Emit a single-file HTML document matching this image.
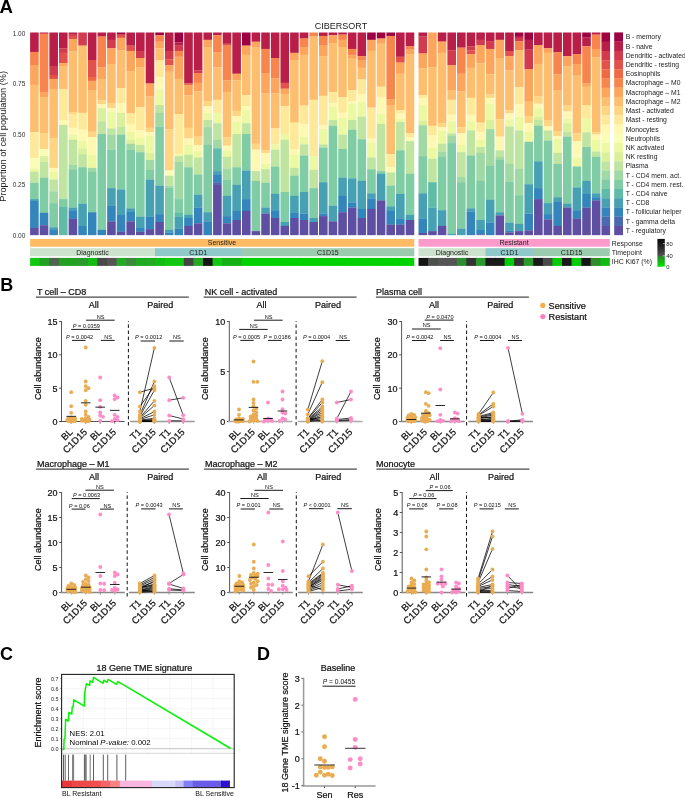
<!DOCTYPE html>
<html><head><meta charset="utf-8"><style>
html,body{margin:0;padding:0;background:#fff;}
svg{display:block;font-family:"Liberation Sans",sans-serif;will-change:transform;}
svg text.b{stroke:#111;stroke-width:0.22px;}
</style></head><body>
<svg width="685" height="798" viewBox="0 0 685 798">
<rect width="685" height="798" fill="#fff"/>
<text x="-0.4" y="13" font-size="18.6" text-anchor="start" fill="#000" font-weight="bold">A</text>
<text x="341" y="29" font-size="9" text-anchor="middle" fill="#222" >CIBERSORT</text>
<text x="25.3" y="35.6" font-size="6.5" text-anchor="end" fill="#333" >1.00</text>
<text x="25.3" y="86.22" font-size="6.5" text-anchor="end" fill="#333" >0.75</text>
<text x="25.3" y="136.85" font-size="6.5" text-anchor="end" fill="#333" >0.50</text>
<text x="25.3" y="187.47" font-size="6.5" text-anchor="end" fill="#333" >0.25</text>
<text x="25.3" y="238.1" font-size="6.5" text-anchor="end" fill="#333" >0.00</text>
<text transform="translate(6.4,136.3) rotate(-90)" font-size="9.2" text-anchor="middle" fill="#222">Proportion of cell population (%)</text>
<rect x="30.1" y="32.5" width="8.6" height="19.55" fill="#B81E48" />
<rect x="30.1" y="51.9" width="8.6" height="13.25" fill="#F7864E" />
<rect x="30.1" y="65" width="8.6" height="19.95" fill="#FCA55D" />
<rect x="30.1" y="84.8" width="8.6" height="47.65" fill="#FDBF6F" />
<rect x="30.1" y="132.3" width="8.6" height="25.95" fill="#FEE99A" />
<rect x="30.1" y="158.1" width="8.6" height="10.55" fill="#F9FDB6" />
<rect x="30.1" y="168.5" width="8.6" height="3.45" fill="#EDF8A3" />
<rect x="30.1" y="171.8" width="8.6" height="11.15" fill="#BFE5A0" />
<rect x="30.1" y="182.8" width="8.6" height="16.45" fill="#80CCA5" />
<rect x="30.1" y="199.1" width="8.6" height="1.85" fill="#48A1B3" />
<rect x="30.1" y="200.8" width="8.6" height="27.15" fill="#3485BC" />
<rect x="30.1" y="227.8" width="8.6" height="7.35" fill="#5E4FA2" />
<rect x="39.73" y="32.5" width="8.6" height="1.35" fill="#B81E48" />
<rect x="39.73" y="33.7" width="8.6" height="58.35" fill="#F7864E" />
<rect x="39.73" y="91.9" width="8.6" height="5.35" fill="#FCA55D" />
<rect x="39.73" y="97.1" width="8.6" height="36.05" fill="#FDBF6F" />
<rect x="39.73" y="133" width="8.6" height="16.15" fill="#FED683" />
<rect x="39.73" y="149" width="8.6" height="7.25" fill="#F9FDB6" />
<rect x="39.73" y="156.1" width="8.6" height="6.05" fill="#DBF09A" />
<rect x="39.73" y="162" width="8.6" height="15.75" fill="#BFE5A0" />
<rect x="39.73" y="177.6" width="8.6" height="35.35" fill="#80CCA5" />
<rect x="39.73" y="212.8" width="8.6" height="12.55" fill="#3485BC" />
<rect x="39.73" y="225.2" width="8.6" height="9.95" fill="#5E4FA2" />
<rect x="49.36" y="32.5" width="8.6" height="33.55" fill="#B81E48" />
<rect x="49.36" y="65.9" width="8.6" height="9.25" fill="#D23B4E" />
<rect x="49.36" y="75" width="8.6" height="4.05" fill="#E2524A" />
<rect x="49.36" y="78.9" width="8.6" height="10.15" fill="#FCA55D" />
<rect x="49.36" y="88.9" width="8.6" height="49.15" fill="#FDBF6F" />
<rect x="49.36" y="137.9" width="8.6" height="30.15" fill="#FED683" />
<rect x="49.36" y="167.9" width="8.6" height="4.05" fill="#FFF8B3" />
<rect x="49.36" y="171.8" width="8.6" height="7.95" fill="#EDF8A3" />
<rect x="49.36" y="179.6" width="8.6" height="11.85" fill="#BFE5A0" />
<rect x="49.36" y="191.3" width="8.6" height="11.95" fill="#A1D9A4" />
<rect x="49.36" y="203.1" width="8.6" height="24.25" fill="#80CCA5" />
<rect x="49.36" y="227.2" width="8.6" height="2.75" fill="#48A1B3" />
<rect x="49.36" y="229.8" width="8.6" height="5.35" fill="#3485BC" />
<rect x="58.99" y="32.5" width="8.6" height="15.95" fill="#B81E48" />
<rect x="58.99" y="48.3" width="8.6" height="4.65" fill="#D23B4E" />
<rect x="58.99" y="52.8" width="8.6" height="10.55" fill="#E2524A" />
<rect x="58.99" y="63.2" width="8.6" height="2.85" fill="#FCA55D" />
<rect x="58.99" y="65.9" width="8.6" height="23.15" fill="#FDBF6F" />
<rect x="58.99" y="88.9" width="8.6" height="31.25" fill="#FEE99A" />
<rect x="58.99" y="120" width="8.6" height="5.05" fill="#FFF8B3" />
<rect x="58.99" y="124.9" width="8.6" height="74.35" fill="#BFE5A0" />
<rect x="58.99" y="199.1" width="8.6" height="7.35" fill="#80CCA5" />
<rect x="58.99" y="206.3" width="8.6" height="28.85" fill="#61BCA7" />
<rect x="68.62" y="32.5" width="8.6" height="2.25" fill="#B81E48" />
<rect x="68.62" y="34.6" width="8.6" height="1.45" fill="#D23B4E" />
<rect x="68.62" y="35.9" width="8.6" height="3.35" fill="#E2524A" />
<rect x="68.62" y="39.1" width="8.6" height="12.55" fill="#FCA55D" />
<rect x="68.62" y="51.5" width="8.6" height="60.75" fill="#FDBF6F" />
<rect x="68.62" y="112.1" width="8.6" height="2.15" fill="#FED683" />
<rect x="68.62" y="114.1" width="8.6" height="13.85" fill="#FEE99A" />
<rect x="68.62" y="127.8" width="8.6" height="6.95" fill="#FFF8B3" />
<rect x="68.62" y="134.6" width="8.6" height="5.35" fill="#EDF8A3" />
<rect x="68.62" y="139.8" width="8.6" height="24.95" fill="#BFE5A0" />
<rect x="68.62" y="164.6" width="8.6" height="4.75" fill="#A1D9A4" />
<rect x="68.62" y="169.2" width="8.6" height="38.55" fill="#80CCA5" />
<rect x="68.62" y="207.6" width="8.6" height="2.75" fill="#48A1B3" />
<rect x="68.62" y="210.2" width="8.6" height="8.65" fill="#3485BC" />
<rect x="68.62" y="218.7" width="8.6" height="16.45" fill="#5E4FA2" />
<rect x="78.25" y="32.5" width="8.6" height="13.25" fill="#D23B4E" />
<rect x="78.25" y="45.6" width="8.6" height="67.35" fill="#FDBF6F" />
<rect x="78.25" y="112.8" width="8.6" height="17.05" fill="#FEE99A" />
<rect x="78.25" y="129.7" width="8.6" height="11.55" fill="#FFF8B3" />
<rect x="78.25" y="141.1" width="8.6" height="7.35" fill="#EDF8A3" />
<rect x="78.25" y="148.3" width="8.6" height="6.05" fill="#DBF09A" />
<rect x="78.25" y="154.2" width="8.6" height="13.15" fill="#BFE5A0" />
<rect x="78.25" y="167.2" width="8.6" height="36.65" fill="#80CCA5" />
<rect x="78.25" y="203.7" width="8.6" height="22.35" fill="#48A1B3" />
<rect x="78.25" y="225.9" width="8.6" height="9.25" fill="#3485BC" />
<rect x="87.88" y="32.5" width="8.6" height="27.65" fill="#B81E48" />
<rect x="87.88" y="60" width="8.6" height="17.05" fill="#E2524A" />
<rect x="87.88" y="76.9" width="8.6" height="4.05" fill="#F16944" />
<rect x="87.88" y="80.8" width="8.6" height="9.35" fill="#FCA55D" />
<rect x="87.88" y="90" width="8.6" height="41.85" fill="#FDBF6F" />
<rect x="87.88" y="131.7" width="8.6" height="5.45" fill="#FED683" />
<rect x="87.88" y="137" width="8.6" height="17.95" fill="#FFF8B3" />
<rect x="87.88" y="154.8" width="8.6" height="13.25" fill="#EDF8A3" />
<rect x="87.88" y="167.9" width="8.6" height="4.05" fill="#A1D9A4" />
<rect x="87.88" y="171.8" width="8.6" height="40.55" fill="#80CCA5" />
<rect x="87.88" y="212.2" width="8.6" height="22.95" fill="#3485BC" />
<rect x="97.51" y="32.5" width="8.6" height="4.15" fill="#B81E48" />
<rect x="97.51" y="36.5" width="8.6" height="30.85" fill="#F7864E" />
<rect x="97.51" y="67.2" width="8.6" height="11.85" fill="#FCA55D" />
<rect x="97.51" y="78.9" width="8.6" height="21.65" fill="#FDBF6F" />
<rect x="97.51" y="100.4" width="8.6" height="4.05" fill="#FED683" />
<rect x="97.51" y="104.3" width="8.6" height="4.05" fill="#FFF8B3" />
<rect x="97.51" y="108.2" width="8.6" height="13.25" fill="#DBF09A" />
<rect x="97.51" y="121.3" width="8.6" height="9.85" fill="#BFE5A0" />
<rect x="97.51" y="131" width="8.6" height="3.15" fill="#BFE5A0" />
<rect x="97.51" y="134" width="8.6" height="95.95" fill="#80CCA5" />
<rect x="97.51" y="229.8" width="8.6" height="5.35" fill="#3485BC" />
<rect x="107.14" y="32.5" width="8.6" height="7.45" fill="#B81E48" />
<rect x="107.14" y="39.8" width="8.6" height="8.65" fill="#D23B4E" />
<rect x="107.14" y="48.3" width="8.6" height="15.75" fill="#FCA55D" />
<rect x="107.14" y="63.9" width="8.6" height="39.25" fill="#FDBF6F" />
<rect x="107.14" y="103" width="8.6" height="5.35" fill="#FED683" />
<rect x="107.14" y="108.2" width="8.6" height="3.45" fill="#FFF8B3" />
<rect x="107.14" y="111.5" width="8.6" height="17.05" fill="#EDF8A3" />
<rect x="107.14" y="128.4" width="8.6" height="6.35" fill="#BFE5A0" />
<rect x="107.14" y="134.6" width="8.6" height="15.15" fill="#A1D9A4" />
<rect x="107.14" y="149.6" width="8.6" height="38.65" fill="#80CCA5" />
<rect x="107.14" y="188.1" width="8.6" height="17.75" fill="#48A1B3" />
<rect x="107.14" y="205.7" width="8.6" height="15.75" fill="#3485BC" />
<rect x="107.14" y="221.3" width="8.6" height="13.85" fill="#5E4FA2" />
<rect x="116.77" y="32.5" width="8.6" height="2.25" fill="#9E0142" />
<rect x="116.77" y="34.6" width="8.6" height="3.35" fill="#E2524A" />
<rect x="116.77" y="37.8" width="8.6" height="12.55" fill="#FCA55D" />
<rect x="116.77" y="50.2" width="8.6" height="37.95" fill="#FDBF6F" />
<rect x="116.77" y="88" width="8.6" height="15.15" fill="#FEE99A" />
<rect x="116.77" y="103" width="8.6" height="9.95" fill="#FFF8B3" />
<rect x="116.77" y="112.8" width="8.6" height="14.45" fill="#DBF09A" />
<rect x="116.77" y="127.1" width="8.6" height="7.65" fill="#BFE5A0" />
<rect x="116.77" y="134.6" width="8.6" height="54.95" fill="#80CCA5" />
<rect x="116.77" y="189.4" width="8.6" height="25.55" fill="#48A1B3" />
<rect x="116.77" y="214.8" width="8.6" height="17.05" fill="#3485BC" />
<rect x="116.77" y="231.7" width="8.6" height="3.45" fill="#5E4FA2" />
<rect x="126.4" y="32.5" width="8.6" height="13.25" fill="#B81E48" />
<rect x="126.4" y="45.6" width="8.6" height="5.45" fill="#E2524A" />
<rect x="126.4" y="50.9" width="8.6" height="20.35" fill="#FCA55D" />
<rect x="126.4" y="71.1" width="8.6" height="42.45" fill="#FDBF6F" />
<rect x="126.4" y="113.4" width="8.6" height="10.65" fill="#FEE99A" />
<rect x="126.4" y="123.9" width="8.6" height="8.25" fill="#FFF8B3" />
<rect x="126.4" y="132" width="8.6" height="7.95" fill="#EDF8A3" />
<rect x="126.4" y="139.8" width="8.6" height="4.05" fill="#DBF09A" />
<rect x="126.4" y="143.7" width="8.6" height="6.05" fill="#A1D9A4" />
<rect x="126.4" y="149.6" width="8.6" height="58.85" fill="#80CCA5" />
<rect x="126.4" y="208.3" width="8.6" height="3.65" fill="#48A1B3" />
<rect x="126.4" y="211.8" width="8.6" height="9.65" fill="#3485BC" />
<rect x="126.4" y="221.3" width="8.6" height="13.85" fill="#5E4FA2" />
<rect x="136.03" y="32.5" width="8.6" height="18.55" fill="#B81E48" />
<rect x="136.03" y="50.9" width="8.6" height="7.25" fill="#D23B4E" />
<rect x="136.03" y="58" width="8.6" height="9.35" fill="#FCA55D" />
<rect x="136.03" y="67.2" width="8.6" height="39.85" fill="#FDBF6F" />
<rect x="136.03" y="106.9" width="8.6" height="23.65" fill="#FEE99A" />
<rect x="136.03" y="130.4" width="8.6" height="7.65" fill="#FFF8B3" />
<rect x="136.03" y="137.9" width="8.6" height="7.25" fill="#EDF8A3" />
<rect x="136.03" y="145" width="8.6" height="7.35" fill="#BFE5A0" />
<rect x="136.03" y="152.2" width="8.6" height="64.65" fill="#80CCA5" />
<rect x="136.03" y="216.7" width="8.6" height="11.25" fill="#48A1B3" />
<rect x="136.03" y="227.8" width="8.6" height="4.05" fill="#3485BC" />
<rect x="136.03" y="231.7" width="8.6" height="3.45" fill="#5E4FA2" />
<rect x="145.66" y="32.5" width="8.6" height="51.15" fill="#B81E48" />
<rect x="145.66" y="83.5" width="8.6" height="13.15" fill="#FCA55D" />
<rect x="145.66" y="96.5" width="8.6" height="31.45" fill="#FDBF6F" />
<rect x="145.66" y="127.8" width="8.6" height="4.35" fill="#FED683" />
<rect x="145.66" y="132" width="8.6" height="4.05" fill="#FFF8B3" />
<rect x="145.66" y="135.9" width="8.6" height="17.15" fill="#EDF8A3" />
<rect x="145.66" y="152.9" width="8.6" height="7.25" fill="#DBF09A" />
<rect x="145.66" y="160" width="8.6" height="9.95" fill="#A1D9A4" />
<rect x="145.66" y="169.8" width="8.6" height="9.95" fill="#80CCA5" />
<rect x="145.66" y="179.6" width="8.6" height="37.25" fill="#48A1B3" />
<rect x="145.66" y="216.7" width="8.6" height="12.55" fill="#3485BC" />
<rect x="145.66" y="229.1" width="8.6" height="6.05" fill="#5E4FA2" />
<rect x="155.29" y="32.5" width="8.6" height="2.85" fill="#9E0142" />
<rect x="155.29" y="35.2" width="8.6" height="6.65" fill="#F7864E" />
<rect x="155.29" y="41.7" width="8.6" height="6.75" fill="#FCA55D" />
<rect x="155.29" y="48.3" width="8.6" height="11.85" fill="#FDBF6F" />
<rect x="155.29" y="60" width="8.6" height="17.05" fill="#FEE99A" />
<rect x="155.29" y="76.9" width="8.6" height="9.95" fill="#FFF8B3" />
<rect x="155.29" y="86.7" width="8.6" height="2.75" fill="#F9FDB6" />
<rect x="155.29" y="89.3" width="8.6" height="15.85" fill="#EDF8A3" />
<rect x="155.29" y="105" width="8.6" height="7.95" fill="#BFE5A0" />
<rect x="155.29" y="112.8" width="8.6" height="13.85" fill="#A1D9A4" />
<rect x="155.29" y="126.5" width="8.6" height="59.15" fill="#80CCA5" />
<rect x="155.29" y="185.5" width="8.6" height="28.75" fill="#48A1B3" />
<rect x="155.29" y="214.1" width="8.6" height="8.05" fill="#3485BC" />
<rect x="155.29" y="222" width="8.6" height="13.15" fill="#5E4FA2" />
<rect x="164.92" y="32.5" width="8.6" height="18.55" fill="#B81E48" />
<rect x="164.92" y="50.9" width="8.6" height="8.55" fill="#D23B4E" />
<rect x="164.92" y="59.3" width="8.6" height="6.05" fill="#E2524A" />
<rect x="164.92" y="65.2" width="8.6" height="6.65" fill="#FCA55D" />
<rect x="164.92" y="71.7" width="8.6" height="57.55" fill="#FDBF6F" />
<rect x="164.92" y="129.1" width="8.6" height="41.55" fill="#FED683" />
<rect x="164.92" y="170.5" width="8.6" height="5.35" fill="#F9FDB6" />
<rect x="164.92" y="175.7" width="8.6" height="9.95" fill="#BFE5A0" />
<rect x="164.92" y="185.5" width="8.6" height="2.05" fill="#A1D9A4" />
<rect x="164.92" y="187.4" width="8.6" height="42.55" fill="#80CCA5" />
<rect x="164.92" y="229.8" width="8.6" height="2.75" fill="#48A1B3" />
<rect x="164.92" y="232.4" width="8.6" height="2.75" fill="#3485BC" />
<rect x="174.55" y="32.5" width="8.6" height="10.05" fill="#9E0142" />
<rect x="174.55" y="42.4" width="8.6" height="3.35" fill="#B81E48" />
<rect x="174.55" y="45.6" width="8.6" height="5.45" fill="#D23B4E" />
<rect x="174.55" y="50.9" width="8.6" height="5.95" fill="#F7864E" />
<rect x="174.55" y="56.7" width="8.6" height="22.35" fill="#FCA55D" />
<rect x="174.55" y="78.9" width="8.6" height="35.35" fill="#FDBF6F" />
<rect x="174.55" y="114.1" width="8.6" height="40.25" fill="#FEE99A" />
<rect x="174.55" y="154.2" width="8.6" height="2.05" fill="#EDF8A3" />
<rect x="174.55" y="156.1" width="8.6" height="6.05" fill="#BFE5A0" />
<rect x="174.55" y="162" width="8.6" height="37.25" fill="#A1D9A4" />
<rect x="174.55" y="199.1" width="8.6" height="13.85" fill="#80CCA5" />
<rect x="174.55" y="212.8" width="8.6" height="4.05" fill="#61BCA7" />
<rect x="174.55" y="216.7" width="8.6" height="11.95" fill="#48A1B3" />
<rect x="174.55" y="228.5" width="8.6" height="6.65" fill="#3485BC" />
<rect x="184.18" y="32.5" width="8.6" height="51.15" fill="#B81E48" />
<rect x="184.18" y="83.5" width="8.6" height="2.05" fill="#F16944" />
<rect x="184.18" y="85.4" width="8.6" height="9.95" fill="#FCA55D" />
<rect x="184.18" y="95.2" width="8.6" height="32.75" fill="#FDBF6F" />
<rect x="184.18" y="127.8" width="8.6" height="10.85" fill="#FED683" />
<rect x="184.18" y="138.5" width="8.6" height="6.65" fill="#FFF8B3" />
<rect x="184.18" y="145" width="8.6" height="9.95" fill="#EDF8A3" />
<rect x="184.18" y="154.8" width="8.6" height="12.55" fill="#BFE5A0" />
<rect x="184.18" y="167.2" width="8.6" height="47.75" fill="#80CCA5" />
<rect x="184.18" y="214.8" width="8.6" height="3.35" fill="#48A1B3" />
<rect x="184.18" y="218" width="8.6" height="8.05" fill="#3485BC" />
<rect x="184.18" y="225.9" width="8.6" height="9.25" fill="#5E4FA2" />
<rect x="193.81" y="32.5" width="8.6" height="38.05" fill="#B81E48" />
<rect x="193.81" y="70.4" width="8.6" height="2.75" fill="#D23B4E" />
<rect x="193.81" y="73" width="8.6" height="9.95" fill="#F7864E" />
<rect x="193.81" y="82.8" width="8.6" height="8.65" fill="#FCA55D" />
<rect x="193.81" y="91.3" width="8.6" height="45.45" fill="#FDBF6F" />
<rect x="193.81" y="136.6" width="8.6" height="8.55" fill="#FED683" />
<rect x="193.81" y="145" width="8.6" height="6.05" fill="#FFF8B3" />
<rect x="193.81" y="150.9" width="8.6" height="6.65" fill="#EDF8A3" />
<rect x="193.81" y="157.4" width="8.6" height="17.15" fill="#BFE5A0" />
<rect x="193.81" y="174.4" width="8.6" height="20.35" fill="#80CCA5" />
<rect x="193.81" y="194.6" width="8.6" height="13.15" fill="#48A1B3" />
<rect x="193.81" y="207.6" width="8.6" height="15.85" fill="#3485BC" />
<rect x="193.81" y="223.3" width="8.6" height="11.85" fill="#5E4FA2" />
<rect x="203.44" y="32.5" width="8.6" height="7.45" fill="#B81E48" />
<rect x="203.44" y="39.8" width="8.6" height="7.35" fill="#FCA55D" />
<rect x="203.44" y="47" width="8.6" height="54.15" fill="#FDBF6F" />
<rect x="203.44" y="101" width="8.6" height="5.45" fill="#FED683" />
<rect x="203.44" y="106.3" width="8.6" height="6.65" fill="#FFF8B3" />
<rect x="203.44" y="112.8" width="8.6" height="7.35" fill="#EDF8A3" />
<rect x="203.44" y="120" width="8.6" height="7.25" fill="#BFE5A0" />
<rect x="203.44" y="127.1" width="8.6" height="18.05" fill="#A1D9A4" />
<rect x="203.44" y="145" width="8.6" height="67.35" fill="#80CCA5" />
<rect x="203.44" y="212.2" width="8.6" height="9.25" fill="#48A1B3" />
<rect x="203.44" y="221.3" width="8.6" height="13.85" fill="#3485BC" />
<rect x="213.07" y="32.5" width="8.6" height="2.85" fill="#B81E48" />
<rect x="213.07" y="35.2" width="8.6" height="17.15" fill="#F7864E" />
<rect x="213.07" y="52.2" width="8.6" height="15.15" fill="#FCA55D" />
<rect x="213.07" y="67.2" width="8.6" height="32.75" fill="#FDBF6F" />
<rect x="213.07" y="99.8" width="8.6" height="13.15" fill="#FEE99A" />
<rect x="213.07" y="112.8" width="8.6" height="10.55" fill="#EDF8A3" />
<rect x="213.07" y="123.2" width="8.6" height="16.75" fill="#BFE5A0" />
<rect x="213.07" y="139.8" width="8.6" height="8.65" fill="#A1D9A4" />
<rect x="213.07" y="148.3" width="8.6" height="22.95" fill="#61BCA7" />
<rect x="213.07" y="171.1" width="8.6" height="4.05" fill="#48A1B3" />
<rect x="213.07" y="175" width="8.6" height="7.35" fill="#3485BC" />
<rect x="213.07" y="182.2" width="8.6" height="2.75" fill="#496AAF" />
<rect x="213.07" y="184.8" width="8.6" height="50.35" fill="#5E4FA2" />
<rect x="222.7" y="32.5" width="8.6" height="11.35" fill="#B81E48" />
<rect x="222.7" y="43.7" width="8.6" height="2.05" fill="#E2524A" />
<rect x="222.7" y="45.6" width="8.6" height="34.75" fill="#F7864E" />
<rect x="222.7" y="80.2" width="8.6" height="11.85" fill="#FCA55D" />
<rect x="222.7" y="91.9" width="8.6" height="45.45" fill="#FDBF6F" />
<rect x="222.7" y="137.2" width="8.6" height="8.65" fill="#FED683" />
<rect x="222.7" y="145.7" width="8.6" height="5.35" fill="#FFF8B3" />
<rect x="222.7" y="150.9" width="8.6" height="6.05" fill="#EDF8A3" />
<rect x="222.7" y="156.8" width="8.6" height="11.85" fill="#BFE5A0" />
<rect x="222.7" y="168.5" width="8.6" height="11.25" fill="#A1D9A4" />
<rect x="222.7" y="179.6" width="8.6" height="16.45" fill="#80CCA5" />
<rect x="222.7" y="195.9" width="8.6" height="20.35" fill="#48A1B3" />
<rect x="222.7" y="216.1" width="8.6" height="7.35" fill="#3485BC" />
<rect x="222.7" y="223.3" width="8.6" height="11.85" fill="#5E4FA2" />
<rect x="232.33" y="32.5" width="8.6" height="41.35" fill="#B81E48" />
<rect x="232.33" y="73.7" width="8.6" height="6.65" fill="#FCA55D" />
<rect x="232.33" y="80.2" width="8.6" height="30.75" fill="#FDBF6F" />
<rect x="232.33" y="110.8" width="8.6" height="5.35" fill="#FED683" />
<rect x="232.33" y="116" width="8.6" height="6.05" fill="#FFF8B3" />
<rect x="232.33" y="121.9" width="8.6" height="12.25" fill="#EDF8A3" />
<rect x="232.33" y="134" width="8.6" height="33.35" fill="#BFE5A0" />
<rect x="232.33" y="167.2" width="8.6" height="17.75" fill="#80CCA5" />
<rect x="232.33" y="184.8" width="8.6" height="26.25" fill="#48A1B3" />
<rect x="232.33" y="210.9" width="8.6" height="9.25" fill="#3485BC" />
<rect x="232.33" y="220" width="8.6" height="15.15" fill="#5E4FA2" />
<rect x="241.96" y="32.5" width="8.6" height="13.25" fill="#9E0142" />
<rect x="241.96" y="45.6" width="8.6" height="9.35" fill="#FCA55D" />
<rect x="241.96" y="54.8" width="8.6" height="40.55" fill="#FDBF6F" />
<rect x="241.96" y="95.2" width="8.6" height="11.25" fill="#FEE99A" />
<rect x="241.96" y="106.3" width="8.6" height="4.05" fill="#FFF8B3" />
<rect x="241.96" y="110.2" width="8.6" height="13.15" fill="#EDF8A3" />
<rect x="241.96" y="123.2" width="8.6" height="10.95" fill="#BFE5A0" />
<rect x="241.96" y="134" width="8.6" height="36.65" fill="#80CCA5" />
<rect x="241.96" y="170.5" width="8.6" height="28.75" fill="#48A1B3" />
<rect x="241.96" y="199.1" width="8.6" height="11.95" fill="#3485BC" />
<rect x="241.96" y="210.9" width="8.6" height="24.25" fill="#5E4FA2" />
<rect x="251.59" y="32.5" width="8.6" height="9.35" fill="#B81E48" />
<rect x="251.59" y="41.7" width="8.6" height="6.05" fill="#FCA55D" />
<rect x="251.59" y="47.6" width="8.6" height="96.25" fill="#FDBF6F" />
<rect x="251.59" y="143.7" width="8.6" height="6.05" fill="#FED683" />
<rect x="251.59" y="149.6" width="8.6" height="21.65" fill="#FFF8B3" />
<rect x="251.59" y="171.1" width="8.6" height="9.95" fill="#BFE5A0" />
<rect x="251.59" y="180.9" width="8.6" height="50.35" fill="#80CCA5" />
<rect x="251.59" y="231.1" width="8.6" height="4.05" fill="#5E4FA2" />
<rect x="261.22" y="32.5" width="8.6" height="16.55" fill="#B81E48" />
<rect x="261.22" y="48.9" width="8.6" height="24.25" fill="#F7864E" />
<rect x="261.22" y="73" width="8.6" height="20.35" fill="#FCA55D" />
<rect x="261.22" y="93.2" width="8.6" height="57.25" fill="#FDBF6F" />
<rect x="261.22" y="150.3" width="8.6" height="2.75" fill="#FED683" />
<rect x="261.22" y="152.9" width="8.6" height="11.15" fill="#FFF8B3" />
<rect x="261.22" y="163.9" width="8.6" height="5.45" fill="#EDF8A3" />
<rect x="261.22" y="169.2" width="8.6" height="13.75" fill="#BFE5A0" />
<rect x="261.22" y="182.8" width="8.6" height="24.95" fill="#80CCA5" />
<rect x="261.22" y="207.6" width="8.6" height="6.05" fill="#48A1B3" />
<rect x="261.22" y="213.5" width="8.6" height="21.65" fill="#5E4FA2" />
<rect x="270.85" y="32.5" width="8.6" height="25.65" fill="#B81E48" />
<rect x="270.85" y="58" width="8.6" height="20.35" fill="#F7864E" />
<rect x="270.85" y="78.2" width="8.6" height="15.15" fill="#FCA55D" />
<rect x="270.85" y="93.2" width="8.6" height="35.35" fill="#FDBF6F" />
<rect x="270.85" y="128.4" width="8.6" height="16.15" fill="#FEE99A" />
<rect x="270.85" y="144.4" width="8.6" height="5.35" fill="#EDF8A3" />
<rect x="270.85" y="149.6" width="8.6" height="17.05" fill="#BFE5A0" />
<rect x="270.85" y="166.5" width="8.6" height="27.55" fill="#80CCA5" />
<rect x="270.85" y="193.9" width="8.6" height="16.45" fill="#48A1B3" />
<rect x="270.85" y="210.2" width="8.6" height="7.95" fill="#3485BC" />
<rect x="270.85" y="218" width="8.6" height="17.15" fill="#5E4FA2" />
<rect x="280.48" y="32.5" width="8.6" height="50.45" fill="#B81E48" />
<rect x="280.48" y="82.8" width="8.6" height="6.05" fill="#E2524A" />
<rect x="280.48" y="88.7" width="8.6" height="5.35" fill="#FCA55D" />
<rect x="280.48" y="93.9" width="8.6" height="12.55" fill="#FDBF6F" />
<rect x="280.48" y="106.3" width="8.6" height="27.85" fill="#FEE99A" />
<rect x="280.48" y="134" width="8.6" height="5.95" fill="#EDF8A3" />
<rect x="280.48" y="139.8" width="8.6" height="52.35" fill="#BFE5A0" />
<rect x="280.48" y="192" width="8.6" height="30.15" fill="#80CCA5" />
<rect x="280.48" y="222" width="8.6" height="4.05" fill="#48A1B3" />
<rect x="280.48" y="225.9" width="8.6" height="9.25" fill="#5E4FA2" />
<rect x="290.11" y="32.5" width="8.6" height="20.45" fill="#B81E48" />
<rect x="290.11" y="52.8" width="8.6" height="7.35" fill="#FCA55D" />
<rect x="290.11" y="60" width="8.6" height="62.75" fill="#FDBF6F" />
<rect x="290.11" y="122.6" width="8.6" height="26.55" fill="#FEE99A" />
<rect x="290.11" y="149" width="8.6" height="5.95" fill="#FFF8B3" />
<rect x="290.11" y="154.8" width="8.6" height="13.25" fill="#EDF8A3" />
<rect x="290.11" y="167.9" width="8.6" height="7.95" fill="#BFE5A0" />
<rect x="290.11" y="175.7" width="8.6" height="20.35" fill="#80CCA5" />
<rect x="290.11" y="195.9" width="8.6" height="17.05" fill="#48A1B3" />
<rect x="290.11" y="212.8" width="8.6" height="5.35" fill="#3485BC" />
<rect x="290.11" y="218" width="8.6" height="17.15" fill="#5E4FA2" />
<rect x="299.74" y="32.5" width="8.6" height="6.15" fill="#B81E48" />
<rect x="299.74" y="38.5" width="8.6" height="9.25" fill="#F7864E" />
<rect x="299.74" y="47.6" width="8.6" height="7.35" fill="#FCA55D" />
<rect x="299.74" y="54.8" width="8.6" height="50.95" fill="#FDBF6F" />
<rect x="299.74" y="105.6" width="8.6" height="18.45" fill="#FEE99A" />
<rect x="299.74" y="123.9" width="8.6" height="12.85" fill="#FFF8B3" />
<rect x="299.74" y="136.6" width="8.6" height="7.95" fill="#EDF8A3" />
<rect x="299.74" y="144.4" width="8.6" height="11.25" fill="#BFE5A0" />
<rect x="299.74" y="155.5" width="8.6" height="36.65" fill="#80CCA5" />
<rect x="299.74" y="192" width="8.6" height="21.65" fill="#48A1B3" />
<rect x="299.74" y="213.5" width="8.6" height="6.65" fill="#3485BC" />
<rect x="299.74" y="220" width="8.6" height="15.15" fill="#5E4FA2" />
<rect x="309.37" y="32.5" width="8.6" height="4.15" fill="#F7864E" />
<rect x="309.37" y="36.5" width="8.6" height="63.45" fill="#FDBF6F" />
<rect x="309.37" y="99.8" width="8.6" height="56.45" fill="#FEE99A" />
<rect x="309.37" y="156.1" width="8.6" height="13.85" fill="#EDF8A3" />
<rect x="309.37" y="169.8" width="8.6" height="18.45" fill="#BFE5A0" />
<rect x="309.37" y="188.1" width="8.6" height="30.05" fill="#80CCA5" />
<rect x="309.37" y="218" width="8.6" height="4.15" fill="#48A1B3" />
<rect x="309.37" y="222" width="8.6" height="13.15" fill="#5E4FA2" />
<rect x="319" y="32.5" width="8.6" height="3.55" fill="#B81E48" />
<rect x="319" y="35.9" width="8.6" height="9.85" fill="#F7864E" />
<rect x="319" y="45.6" width="8.6" height="10.65" fill="#FCA55D" />
<rect x="319" y="56.1" width="8.6" height="39.85" fill="#FDBF6F" />
<rect x="319" y="95.8" width="8.6" height="29.55" fill="#FEE99A" />
<rect x="319" y="125.2" width="8.6" height="4.05" fill="#FFF8B3" />
<rect x="319" y="129.1" width="8.6" height="15.45" fill="#EDF8A3" />
<rect x="319" y="144.4" width="8.6" height="3.35" fill="#BFE5A0" />
<rect x="319" y="147.6" width="8.6" height="34.75" fill="#80CCA5" />
<rect x="319" y="182.2" width="8.6" height="31.45" fill="#48A1B3" />
<rect x="319" y="213.5" width="8.6" height="2.75" fill="#3485BC" />
<rect x="319" y="216.1" width="8.6" height="19.05" fill="#5E4FA2" />
<rect x="328.63" y="32.5" width="8.6" height="2.85" fill="#B81E48" />
<rect x="328.63" y="35.2" width="8.6" height="7.95" fill="#FCA55D" />
<rect x="328.63" y="43" width="8.6" height="49.05" fill="#FDBF6F" />
<rect x="328.63" y="91.9" width="8.6" height="11.25" fill="#FEE99A" />
<rect x="328.63" y="103" width="8.6" height="4.05" fill="#FFF8B3" />
<rect x="328.63" y="106.9" width="8.6" height="13.25" fill="#EDF8A3" />
<rect x="328.63" y="120" width="8.6" height="5.95" fill="#BFE5A0" />
<rect x="328.63" y="125.8" width="8.6" height="80.05" fill="#80CCA5" />
<rect x="328.63" y="205.7" width="8.6" height="15.75" fill="#48A1B3" />
<rect x="328.63" y="221.3" width="8.6" height="13.85" fill="#5E4FA2" />
<rect x="338.26" y="32.5" width="8.6" height="2.25" fill="#B81E48" />
<rect x="338.26" y="34.6" width="8.6" height="5.35" fill="#F7864E" />
<rect x="338.26" y="39.8" width="8.6" height="7.35" fill="#FCA55D" />
<rect x="338.26" y="47" width="8.6" height="50.25" fill="#FDBF6F" />
<rect x="338.26" y="97.1" width="8.6" height="15.85" fill="#FEE99A" />
<rect x="338.26" y="112.8" width="8.6" height="5.35" fill="#FFF8B3" />
<rect x="338.26" y="118" width="8.6" height="16.75" fill="#EDF8A3" />
<rect x="338.26" y="134.6" width="8.6" height="14.55" fill="#BFE5A0" />
<rect x="338.26" y="149" width="8.6" height="28.75" fill="#80CCA5" />
<rect x="338.26" y="177.6" width="8.6" height="18.45" fill="#48A1B3" />
<rect x="338.26" y="195.9" width="8.6" height="16.45" fill="#3485BC" />
<rect x="338.26" y="212.2" width="8.6" height="22.95" fill="#5E4FA2" />
<rect x="347.89" y="32.5" width="8.6" height="16.55" fill="#B81E48" />
<rect x="347.89" y="48.9" width="8.6" height="6.65" fill="#F7864E" />
<rect x="347.89" y="55.4" width="8.6" height="3.45" fill="#FCA55D" />
<rect x="347.89" y="58.7" width="8.6" height="31.45" fill="#FDBF6F" />
<rect x="347.89" y="90" width="8.6" height="11.25" fill="#FEE99A" />
<rect x="347.89" y="101.1" width="8.6" height="2.75" fill="#FFF8B3" />
<rect x="347.89" y="103.7" width="8.6" height="16.45" fill="#EDF8A3" />
<rect x="347.89" y="120" width="8.6" height="9.85" fill="#BFE5A0" />
<rect x="347.89" y="129.7" width="8.6" height="48.75" fill="#80CCA5" />
<rect x="347.89" y="178.3" width="8.6" height="24.25" fill="#48A1B3" />
<rect x="347.89" y="202.4" width="8.6" height="5.35" fill="#3485BC" />
<rect x="347.89" y="207.6" width="8.6" height="27.55" fill="#5E4FA2" />
<rect x="357.52" y="32.5" width="8.6" height="23.75" fill="#B81E48" />
<rect x="357.52" y="56.1" width="8.6" height="4.65" fill="#F7864E" />
<rect x="357.52" y="60.6" width="8.6" height="7.35" fill="#FCA55D" />
<rect x="357.52" y="67.8" width="8.6" height="11.85" fill="#FDBF6F" />
<rect x="357.52" y="79.5" width="8.6" height="14.55" fill="#FEE99A" />
<rect x="357.52" y="93.9" width="8.6" height="7.95" fill="#FFF8B3" />
<rect x="357.52" y="101.7" width="8.6" height="15.15" fill="#EDF8A3" />
<rect x="357.52" y="116.7" width="8.6" height="22.65" fill="#BFE5A0" />
<rect x="357.52" y="139.2" width="8.6" height="41.85" fill="#80CCA5" />
<rect x="357.52" y="180.9" width="8.6" height="28.15" fill="#48A1B3" />
<rect x="357.52" y="208.9" width="8.6" height="9.25" fill="#3485BC" />
<rect x="357.52" y="218" width="8.6" height="17.15" fill="#5E4FA2" />
<rect x="367.15" y="32.5" width="8.6" height="7.45" fill="#9E0142" />
<rect x="367.15" y="39.8" width="8.6" height="11.25" fill="#FCA55D" />
<rect x="367.15" y="50.9" width="8.6" height="56.85" fill="#FDBF6F" />
<rect x="367.15" y="107.6" width="8.6" height="31.05" fill="#FEE99A" />
<rect x="367.15" y="138.5" width="8.6" height="4.05" fill="#FFF8B3" />
<rect x="367.15" y="142.4" width="8.6" height="15.15" fill="#EDF8A3" />
<rect x="367.15" y="157.4" width="8.6" height="11.95" fill="#BFE5A0" />
<rect x="367.15" y="169.2" width="8.6" height="24.25" fill="#80CCA5" />
<rect x="367.15" y="193.3" width="8.6" height="5.35" fill="#48A1B3" />
<rect x="367.15" y="198.5" width="8.6" height="10.55" fill="#3485BC" />
<rect x="367.15" y="208.9" width="8.6" height="26.25" fill="#5E4FA2" />
<rect x="376.78" y="32.5" width="8.6" height="6.15" fill="#9E0142" />
<rect x="376.78" y="38.5" width="8.6" height="5.35" fill="#FCA55D" />
<rect x="376.78" y="43.7" width="8.6" height="43.15" fill="#FDBF6F" />
<rect x="376.78" y="86.7" width="8.6" height="10.55" fill="#FEE99A" />
<rect x="376.78" y="97.1" width="8.6" height="16.45" fill="#FFF8B3" />
<rect x="376.78" y="113.4" width="8.6" height="10.65" fill="#EDF8A3" />
<rect x="376.78" y="123.9" width="8.6" height="47.35" fill="#BFE5A0" />
<rect x="376.78" y="171.1" width="8.6" height="2.75" fill="#80CCA5" />
<rect x="376.78" y="173.7" width="8.6" height="26.85" fill="#48A1B3" />
<rect x="376.78" y="200.4" width="8.6" height="34.75" fill="#5E4FA2" />
<rect x="386.41" y="32.5" width="8.6" height="3.55" fill="#9E0142" />
<rect x="386.41" y="35.9" width="8.6" height="63.35" fill="#F7864E" />
<rect x="386.41" y="99.1" width="8.6" height="6.05" fill="#FCA55D" />
<rect x="386.41" y="105" width="8.6" height="49.35" fill="#FDBF6F" />
<rect x="386.41" y="154.2" width="8.6" height="13.15" fill="#FEE99A" />
<rect x="386.41" y="167.2" width="8.6" height="5.35" fill="#FFF8B3" />
<rect x="386.41" y="172.4" width="8.6" height="13.25" fill="#BFE5A0" />
<rect x="386.41" y="185.5" width="8.6" height="20.95" fill="#80CCA5" />
<rect x="386.41" y="206.3" width="8.6" height="4.75" fill="#48A1B3" />
<rect x="386.41" y="210.9" width="8.6" height="13.85" fill="#3485BC" />
<rect x="386.41" y="224.6" width="8.6" height="10.55" fill="#5E4FA2" />
<rect x="396.04" y="32.5" width="8.6" height="24.35" fill="#B81E48" />
<rect x="396.04" y="56.7" width="8.6" height="6.05" fill="#E2524A" />
<rect x="396.04" y="62.6" width="8.6" height="11.25" fill="#FCA55D" />
<rect x="396.04" y="73.7" width="8.6" height="36.65" fill="#FDBF6F" />
<rect x="396.04" y="110.2" width="8.6" height="3.35" fill="#FEE99A" />
<rect x="396.04" y="113.4" width="8.6" height="5.45" fill="#FFF8B3" />
<rect x="396.04" y="118.7" width="8.6" height="3.35" fill="#EDF8A3" />
<rect x="396.04" y="121.9" width="8.6" height="28.55" fill="#BFE5A0" />
<rect x="396.04" y="150.3" width="8.6" height="43.75" fill="#80CCA5" />
<rect x="396.04" y="193.9" width="8.6" height="24.95" fill="#48A1B3" />
<rect x="396.04" y="218.7" width="8.6" height="6.05" fill="#3485BC" />
<rect x="396.04" y="224.6" width="8.6" height="10.55" fill="#5E4FA2" />
<rect x="405.67" y="32.5" width="8.6" height="13.95" fill="#B81E48" />
<rect x="405.67" y="46.3" width="8.6" height="3.45" fill="#F7864E" />
<rect x="405.67" y="49.6" width="8.6" height="4.65" fill="#FCA55D" />
<rect x="405.67" y="54.1" width="8.6" height="79.35" fill="#FDBF6F" />
<rect x="405.67" y="133.3" width="8.6" height="4.05" fill="#FEE99A" />
<rect x="405.67" y="137.2" width="8.6" height="4.05" fill="#FFF8B3" />
<rect x="405.67" y="141.1" width="8.6" height="32.75" fill="#BFE5A0" />
<rect x="405.67" y="173.7" width="8.6" height="41.25" fill="#80CCA5" />
<rect x="405.67" y="214.8" width="8.6" height="5.35" fill="#48A1B3" />
<rect x="405.67" y="220" width="8.6" height="15.15" fill="#5E4FA2" />
<rect x="418.5" y="32.5" width="8.6" height="4.15" fill="#B81E48" />
<rect x="418.5" y="36.5" width="8.6" height="17.15" fill="#D23B4E" />
<rect x="418.5" y="53.5" width="8.6" height="15.15" fill="#FCA55D" />
<rect x="418.5" y="68.5" width="8.6" height="26.85" fill="#FDBF6F" />
<rect x="418.5" y="95.2" width="8.6" height="3.35" fill="#FEE99A" />
<rect x="418.5" y="98.4" width="8.6" height="6.75" fill="#FFF8B3" />
<rect x="418.5" y="105" width="8.6" height="15.75" fill="#EDF8A3" />
<rect x="418.5" y="120.6" width="8.6" height="4.75" fill="#DBF09A" />
<rect x="418.5" y="125.2" width="8.6" height="31.05" fill="#A1D9A4" />
<rect x="418.5" y="156.1" width="8.6" height="37.35" fill="#80CCA5" />
<rect x="418.5" y="193.3" width="8.6" height="25.55" fill="#48A1B3" />
<rect x="418.5" y="218.7" width="8.6" height="14.45" fill="#3485BC" />
<rect x="418.5" y="233" width="8.6" height="2.15" fill="#5E4FA2" />
<rect x="428.13" y="32.5" width="8.6" height="34.85" fill="#FCA55D" />
<rect x="428.13" y="67.2" width="8.6" height="58.75" fill="#FDBF6F" />
<rect x="428.13" y="125.8" width="8.6" height="9.65" fill="#FEE99A" />
<rect x="428.13" y="135.3" width="8.6" height="12.45" fill="#FFF8B3" />
<rect x="428.13" y="147.6" width="8.6" height="11.25" fill="#EDF8A3" />
<rect x="428.13" y="158.7" width="8.6" height="23.65" fill="#BFE5A0" />
<rect x="428.13" y="182.2" width="8.6" height="25.55" fill="#61BCA7" />
<rect x="428.13" y="207.6" width="8.6" height="23.65" fill="#48A1B3" />
<rect x="428.13" y="231.1" width="8.6" height="4.05" fill="#5E4FA2" />
<rect x="437.76" y="32.5" width="8.6" height="8.75" fill="#B81E48" />
<rect x="437.76" y="41.1" width="8.6" height="1.45" fill="#F16944" />
<rect x="437.76" y="42.4" width="8.6" height="10.55" fill="#FCA55D" />
<rect x="437.76" y="52.8" width="8.6" height="70.55" fill="#FDBF6F" />
<rect x="437.76" y="123.2" width="8.6" height="4.05" fill="#FED683" />
<rect x="437.76" y="127.1" width="8.6" height="4.05" fill="#FFF8B3" />
<rect x="437.76" y="131" width="8.6" height="12.85" fill="#EDF8A3" />
<rect x="437.76" y="143.7" width="8.6" height="8.05" fill="#BFE5A0" />
<rect x="437.76" y="151.6" width="8.6" height="5.35" fill="#A1D9A4" />
<rect x="437.76" y="156.8" width="8.6" height="53.55" fill="#80CCA5" />
<rect x="437.76" y="210.2" width="8.6" height="15.85" fill="#48A1B3" />
<rect x="437.76" y="225.9" width="8.6" height="9.25" fill="#5E4FA2" />
<rect x="447.39" y="32.5" width="8.6" height="17.85" fill="#B81E48" />
<rect x="447.39" y="50.2" width="8.6" height="15.15" fill="#D23B4E" />
<rect x="447.39" y="65.2" width="8.6" height="24.95" fill="#FCA55D" />
<rect x="447.39" y="90" width="8.6" height="9.95" fill="#FDBF6F" />
<rect x="447.39" y="99.8" width="8.6" height="15.05" fill="#FEE99A" />
<rect x="447.39" y="114.7" width="8.6" height="6.75" fill="#FFF8B3" />
<rect x="447.39" y="121.3" width="8.6" height="12.15" fill="#EDF8A3" />
<rect x="447.39" y="133.3" width="8.6" height="2.75" fill="#BFE5A0" />
<rect x="447.39" y="135.9" width="8.6" height="7.35" fill="#A1D9A4" />
<rect x="447.39" y="143.1" width="8.6" height="90.75" fill="#80CCA5" />
<rect x="447.39" y="233.7" width="8.6" height="1.45" fill="#48A1B3" />
<rect x="457.02" y="32.5" width="8.6" height="15.25" fill="#B81E48" />
<rect x="457.02" y="47.6" width="8.6" height="26.25" fill="#F7864E" />
<rect x="457.02" y="73.7" width="8.6" height="17.75" fill="#FCA55D" />
<rect x="457.02" y="91.3" width="8.6" height="35.95" fill="#FDBF6F" />
<rect x="457.02" y="127.1" width="8.6" height="6.35" fill="#FED683" />
<rect x="457.02" y="133.3" width="8.6" height="11.85" fill="#FFF8B3" />
<rect x="457.02" y="145" width="8.6" height="7.35" fill="#EDF8A3" />
<rect x="457.02" y="152.2" width="8.6" height="24.95" fill="#BFE5A0" />
<rect x="457.02" y="177" width="8.6" height="5.35" fill="#A1D9A4" />
<rect x="457.02" y="182.2" width="8.6" height="46.45" fill="#80CCA5" />
<rect x="457.02" y="228.5" width="8.6" height="6.65" fill="#48A1B3" />
<rect x="466.65" y="32.5" width="8.6" height="13.95" fill="#B81E48" />
<rect x="466.65" y="46.3" width="8.6" height="4.05" fill="#D23B4E" />
<rect x="466.65" y="50.2" width="8.6" height="4.05" fill="#E2524A" />
<rect x="466.65" y="54.1" width="8.6" height="13.85" fill="#FCA55D" />
<rect x="466.65" y="67.8" width="8.6" height="30.15" fill="#FDBF6F" />
<rect x="466.65" y="97.8" width="8.6" height="17.05" fill="#FEE99A" />
<rect x="466.65" y="114.7" width="8.6" height="6.75" fill="#FFF8B3" />
<rect x="466.65" y="121.3" width="8.6" height="9.25" fill="#EDF8A3" />
<rect x="466.65" y="130.4" width="8.6" height="25.25" fill="#BFE5A0" />
<rect x="466.65" y="155.5" width="8.6" height="52.95" fill="#80CCA5" />
<rect x="466.65" y="208.3" width="8.6" height="3.35" fill="#48A1B3" />
<rect x="466.65" y="211.5" width="8.6" height="23.65" fill="#3485BC" />
<rect x="476.28" y="32.5" width="8.6" height="7.45" fill="#B81E48" />
<rect x="476.28" y="39.8" width="8.6" height="5.35" fill="#D23B4E" />
<rect x="476.28" y="45" width="8.6" height="18.35" fill="#FCA55D" />
<rect x="476.28" y="63.2" width="8.6" height="59.55" fill="#FDBF6F" />
<rect x="476.28" y="122.6" width="8.6" height="9.25" fill="#FEE99A" />
<rect x="476.28" y="131.7" width="8.6" height="8.25" fill="#FFF8B3" />
<rect x="476.28" y="139.8" width="8.6" height="7.35" fill="#EDF8A3" />
<rect x="476.28" y="147" width="8.6" height="6.05" fill="#BFE5A0" />
<rect x="476.28" y="152.9" width="8.6" height="28.15" fill="#A1D9A4" />
<rect x="476.28" y="180.9" width="8.6" height="39.25" fill="#80CCA5" />
<rect x="476.28" y="220" width="8.6" height="9.95" fill="#48A1B3" />
<rect x="476.28" y="229.8" width="8.6" height="4.65" fill="#3485BC" />
<rect x="476.28" y="234.3" width="8.6" height="0.85" fill="#5E4FA2" />
<rect x="485.91" y="32.5" width="8.6" height="8.75" fill="#B81E48" />
<rect x="485.91" y="41.1" width="8.6" height="7.95" fill="#D23B4E" />
<rect x="485.91" y="48.9" width="8.6" height="25.55" fill="#FCA55D" />
<rect x="485.91" y="74.3" width="8.6" height="20.35" fill="#FDBF6F" />
<rect x="485.91" y="94.5" width="8.6" height="3.45" fill="#FED683" />
<rect x="485.91" y="97.8" width="8.6" height="6.05" fill="#FFF8B3" />
<rect x="485.91" y="103.7" width="8.6" height="16.45" fill="#EDF8A3" />
<rect x="485.91" y="120" width="8.6" height="9.25" fill="#DBF09A" />
<rect x="485.91" y="129.1" width="8.6" height="36.95" fill="#A1D9A4" />
<rect x="485.91" y="165.9" width="8.6" height="34.05" fill="#80CCA5" />
<rect x="485.91" y="199.8" width="8.6" height="22.95" fill="#48A1B3" />
<rect x="485.91" y="222.6" width="8.6" height="12.55" fill="#3485BC" />
<rect x="495.54" y="32.5" width="8.6" height="7.45" fill="#B81E48" />
<rect x="495.54" y="39.8" width="8.6" height="18.35" fill="#FCA55D" />
<rect x="495.54" y="58" width="8.6" height="61.45" fill="#FDBF6F" />
<rect x="495.54" y="119.3" width="8.6" height="17.45" fill="#FED683" />
<rect x="495.54" y="136.6" width="8.6" height="13.85" fill="#FFF8B3" />
<rect x="495.54" y="150.3" width="8.6" height="6.65" fill="#BFE5A0" />
<rect x="495.54" y="156.8" width="8.6" height="3.35" fill="#A1D9A4" />
<rect x="495.54" y="160" width="8.6" height="52.35" fill="#80CCA5" />
<rect x="495.54" y="212.2" width="8.6" height="3.35" fill="#48A1B3" />
<rect x="495.54" y="215.4" width="8.6" height="19.75" fill="#5E4FA2" />
<rect x="505.17" y="32.5" width="8.6" height="18.55" fill="#B81E48" />
<rect x="505.17" y="50.9" width="8.6" height="5.35" fill="#E2524A" />
<rect x="505.17" y="56.1" width="8.6" height="14.45" fill="#FCA55D" />
<rect x="505.17" y="70.4" width="8.6" height="39.95" fill="#FDBF6F" />
<rect x="505.17" y="110.2" width="8.6" height="3.35" fill="#FED683" />
<rect x="505.17" y="113.4" width="8.6" height="6.05" fill="#FFF8B3" />
<rect x="505.17" y="119.3" width="8.6" height="7.35" fill="#EDF8A3" />
<rect x="505.17" y="126.5" width="8.6" height="37.55" fill="#BFE5A0" />
<rect x="505.17" y="163.9" width="8.6" height="17.75" fill="#A1D9A4" />
<rect x="505.17" y="181.5" width="8.6" height="41.25" fill="#80CCA5" />
<rect x="505.17" y="222.6" width="8.6" height="7.95" fill="#48A1B3" />
<rect x="505.17" y="230.4" width="8.6" height="2.15" fill="#3485BC" />
<rect x="505.17" y="232.4" width="8.6" height="2.75" fill="#5E4FA2" />
<rect x="514.8" y="32.5" width="8.6" height="3.55" fill="#9E0142" />
<rect x="514.8" y="35.9" width="8.6" height="2.05" fill="#B81E48" />
<rect x="514.8" y="37.8" width="8.6" height="3.45" fill="#D23B4E" />
<rect x="514.8" y="41.1" width="8.6" height="9.25" fill="#F7864E" />
<rect x="514.8" y="50.2" width="8.6" height="37.35" fill="#FDBF6F" />
<rect x="514.8" y="87.4" width="8.6" height="17.05" fill="#FEE99A" />
<rect x="514.8" y="104.3" width="8.6" height="12.55" fill="#FFF8B3" />
<rect x="514.8" y="116.7" width="8.6" height="13.85" fill="#EDF8A3" />
<rect x="514.8" y="130.4" width="8.6" height="38.25" fill="#BFE5A0" />
<rect x="514.8" y="168.5" width="8.6" height="26.85" fill="#A1D9A4" />
<rect x="514.8" y="195.2" width="8.6" height="28.85" fill="#80CCA5" />
<rect x="514.8" y="223.9" width="8.6" height="7.35" fill="#48A1B3" />
<rect x="514.8" y="231.1" width="8.6" height="4.05" fill="#5E4FA2" />
<rect x="524.43" y="32.5" width="8.6" height="7.45" fill="#9E0142" />
<rect x="524.43" y="39.8" width="8.6" height="9.95" fill="#B81E48" />
<rect x="524.43" y="49.6" width="8.6" height="19.65" fill="#D23B4E" />
<rect x="524.43" y="69.1" width="8.6" height="32.75" fill="#FCA55D" />
<rect x="524.43" y="101.7" width="8.6" height="14.45" fill="#FDBF6F" />
<rect x="524.43" y="116" width="8.6" height="7.35" fill="#FED683" />
<rect x="524.43" y="123.2" width="8.6" height="8.95" fill="#FFF8B3" />
<rect x="524.43" y="132" width="8.6" height="9.95" fill="#EDF8A3" />
<rect x="524.43" y="141.8" width="8.6" height="42.55" fill="#80CCA5" />
<rect x="524.43" y="184.2" width="8.6" height="29.45" fill="#48A1B3" />
<rect x="524.43" y="213.5" width="8.6" height="17.05" fill="#3485BC" />
<rect x="524.43" y="230.4" width="8.6" height="4.75" fill="#5E4FA2" />
<rect x="534.06" y="32.5" width="8.6" height="12.65" fill="#B81E48" />
<rect x="534.06" y="45" width="8.6" height="19.05" fill="#FCA55D" />
<rect x="534.06" y="63.9" width="8.6" height="32.75" fill="#FDBF6F" />
<rect x="534.06" y="96.5" width="8.6" height="7.35" fill="#FED683" />
<rect x="534.06" y="103.7" width="8.6" height="4.65" fill="#FFF8B3" />
<rect x="534.06" y="108.2" width="8.6" height="8.65" fill="#EDF8A3" />
<rect x="534.06" y="116.7" width="8.6" height="3.45" fill="#DBF09A" />
<rect x="534.06" y="120" width="8.6" height="5.95" fill="#BFE5A0" />
<rect x="534.06" y="125.8" width="8.6" height="35.65" fill="#80CCA5" />
<rect x="534.06" y="161.3" width="8.6" height="26.95" fill="#48A1B3" />
<rect x="534.06" y="188.1" width="8.6" height="11.15" fill="#3485BC" />
<rect x="534.06" y="199.1" width="8.6" height="36.05" fill="#5E4FA2" />
<rect x="543.69" y="32.5" width="8.6" height="15.95" fill="#B81E48" />
<rect x="543.69" y="48.3" width="8.6" height="4.65" fill="#FCA55D" />
<rect x="543.69" y="52.8" width="8.6" height="67.35" fill="#FDBF6F" />
<rect x="543.69" y="120" width="8.6" height="6.65" fill="#FED683" />
<rect x="543.69" y="126.5" width="8.6" height="4.05" fill="#FFF8B3" />
<rect x="543.69" y="130.4" width="8.6" height="10.25" fill="#BFE5A0" />
<rect x="543.69" y="140.5" width="8.6" height="62.75" fill="#80CCA5" />
<rect x="543.69" y="203.1" width="8.6" height="11.15" fill="#48A1B3" />
<rect x="543.69" y="214.1" width="8.6" height="5.45" fill="#3485BC" />
<rect x="543.69" y="219.4" width="8.6" height="15.75" fill="#5E4FA2" />
<rect x="553.32" y="32.5" width="8.6" height="19.85" fill="#B81E48" />
<rect x="553.32" y="52.2" width="8.6" height="22.25" fill="#F7864E" />
<rect x="553.32" y="74.3" width="8.6" height="15.85" fill="#FCA55D" />
<rect x="553.32" y="90" width="8.6" height="41.15" fill="#FDBF6F" />
<rect x="553.32" y="131" width="8.6" height="5.05" fill="#FED683" />
<rect x="553.32" y="135.9" width="8.6" height="2.75" fill="#FFF8B3" />
<rect x="553.32" y="138.5" width="8.6" height="14.55" fill="#EDF8A3" />
<rect x="553.32" y="152.9" width="8.6" height="11.15" fill="#BFE5A0" />
<rect x="553.32" y="163.9" width="8.6" height="33.45" fill="#80CCA5" />
<rect x="553.32" y="197.2" width="8.6" height="4.75" fill="#48A1B3" />
<rect x="553.32" y="201.8" width="8.6" height="24.25" fill="#3485BC" />
<rect x="553.32" y="225.9" width="8.6" height="9.25" fill="#5E4FA2" />
<rect x="562.95" y="32.5" width="8.6" height="23.75" fill="#B81E48" />
<rect x="562.95" y="56.1" width="8.6" height="10.55" fill="#FCA55D" />
<rect x="562.95" y="66.5" width="8.6" height="39.25" fill="#FDBF6F" />
<rect x="562.95" y="105.6" width="8.6" height="6.05" fill="#FED683" />
<rect x="562.95" y="111.5" width="8.6" height="7.35" fill="#FFF8B3" />
<rect x="562.95" y="118.7" width="8.6" height="4.65" fill="#EDF8A3" />
<rect x="562.95" y="123.2" width="8.6" height="8.65" fill="#DBF09A" />
<rect x="562.95" y="131.7" width="8.6" height="5.05" fill="#BFE5A0" />
<rect x="562.95" y="136.6" width="8.6" height="67.25" fill="#80CCA5" />
<rect x="562.95" y="203.7" width="8.6" height="4.05" fill="#48A1B3" />
<rect x="562.95" y="207.6" width="8.6" height="27.55" fill="#5E4FA2" />
<rect x="572.58" y="32.5" width="8.6" height="21.75" fill="#B81E48" />
<rect x="572.58" y="54.1" width="8.6" height="9.95" fill="#F7864E" />
<rect x="572.58" y="63.9" width="8.6" height="11.85" fill="#FCA55D" />
<rect x="572.58" y="75.6" width="8.6" height="57.85" fill="#FDBF6F" />
<rect x="572.58" y="133.3" width="8.6" height="7.95" fill="#FED683" />
<rect x="572.58" y="141.1" width="8.6" height="13.25" fill="#FFF8B3" />
<rect x="572.58" y="154.2" width="8.6" height="3.35" fill="#F9FDB6" />
<rect x="572.58" y="157.4" width="8.6" height="9.25" fill="#EDF8A3" />
<rect x="572.58" y="166.5" width="8.6" height="21.05" fill="#80CCA5" />
<rect x="572.58" y="187.4" width="8.6" height="22.95" fill="#48A1B3" />
<rect x="572.58" y="210.2" width="8.6" height="8.65" fill="#3485BC" />
<rect x="572.58" y="218.7" width="8.6" height="16.45" fill="#5E4FA2" />
<rect x="582.21" y="32.5" width="8.6" height="4.85" fill="#9E0142" />
<rect x="582.21" y="37.2" width="8.6" height="9.25" fill="#B81E48" />
<rect x="582.21" y="46.3" width="8.6" height="37.35" fill="#F7864E" />
<rect x="582.21" y="83.5" width="8.6" height="3.35" fill="#FCA55D" />
<rect x="582.21" y="86.7" width="8.6" height="18.45" fill="#FDBF6F" />
<rect x="582.21" y="105" width="8.6" height="13.85" fill="#FEE99A" />
<rect x="582.21" y="118.7" width="8.6" height="13.75" fill="#EDF8A3" />
<rect x="582.21" y="132.3" width="8.6" height="14.85" fill="#BFE5A0" />
<rect x="582.21" y="147" width="8.6" height="34.05" fill="#80CCA5" />
<rect x="582.21" y="180.9" width="8.6" height="13.15" fill="#48A1B3" />
<rect x="582.21" y="193.9" width="8.6" height="13.85" fill="#3485BC" />
<rect x="582.21" y="207.6" width="8.6" height="27.55" fill="#5E4FA2" />
<rect x="591.84" y="32.5" width="8.6" height="2.25" fill="#B81E48" />
<rect x="591.84" y="34.6" width="8.6" height="14.45" fill="#F7864E" />
<rect x="591.84" y="48.9" width="8.6" height="8.65" fill="#FCA55D" />
<rect x="591.84" y="57.4" width="8.6" height="75.05" fill="#FDBF6F" />
<rect x="591.84" y="132.3" width="8.6" height="2.45" fill="#FED683" />
<rect x="591.84" y="134.6" width="8.6" height="5.35" fill="#FFF8B3" />
<rect x="591.84" y="139.8" width="8.6" height="11.95" fill="#EDF8A3" />
<rect x="591.84" y="151.6" width="8.6" height="5.35" fill="#BFE5A0" />
<rect x="591.84" y="156.8" width="8.6" height="36.65" fill="#80CCA5" />
<rect x="591.84" y="193.3" width="8.6" height="4.05" fill="#48A1B3" />
<rect x="591.84" y="197.2" width="8.6" height="3.35" fill="#3485BC" />
<rect x="591.84" y="200.4" width="8.6" height="34.75" fill="#5E4FA2" />
<rect x="601.47" y="32.5" width="8.6" height="9.45" fill="#9E0142" />
<rect x="601.47" y="41.8" width="8.6" height="9.35" fill="#B81E48" />
<rect x="601.47" y="51" width="8.6" height="9.35" fill="#D23B4E" />
<rect x="601.47" y="60.2" width="8.6" height="9.35" fill="#E2524A" />
<rect x="601.47" y="69.4" width="8.6" height="9.35" fill="#F16944" />
<rect x="601.47" y="78.6" width="8.6" height="9.35" fill="#F7864E" />
<rect x="601.47" y="87.8" width="8.6" height="9.35" fill="#FCA55D" />
<rect x="601.47" y="97" width="8.6" height="9.35" fill="#FDBF6F" />
<rect x="601.47" y="106.2" width="8.6" height="9.35" fill="#FED683" />
<rect x="601.47" y="115.4" width="8.6" height="9.35" fill="#FEE99A" />
<rect x="601.47" y="124.6" width="8.6" height="9.35" fill="#FFF8B3" />
<rect x="601.47" y="133.8" width="8.6" height="9.35" fill="#F9FDB6" />
<rect x="601.47" y="143" width="8.6" height="9.35" fill="#EDF8A3" />
<rect x="601.47" y="152.2" width="8.6" height="9.35" fill="#DBF09A" />
<rect x="601.47" y="161.4" width="8.6" height="9.35" fill="#BFE5A0" />
<rect x="601.47" y="170.6" width="8.6" height="9.35" fill="#A1D9A4" />
<rect x="601.47" y="179.8" width="8.6" height="9.35" fill="#80CCA5" />
<rect x="601.47" y="189" width="8.6" height="9.35" fill="#61BCA7" />
<rect x="601.47" y="198.2" width="8.6" height="9.35" fill="#48A1B3" />
<rect x="601.47" y="207.4" width="8.6" height="9.35" fill="#3485BC" />
<rect x="601.47" y="216.6" width="8.6" height="9.35" fill="#496AAF" />
<rect x="601.47" y="225.8" width="8.6" height="9.35" fill="#5E4FA2" />
<rect x="614.2" y="32.4" width="8.8" height="9.36" fill="#9E0142" />
<text x="625.7" y="39.4" font-size="6.8" text-anchor="start" fill="#222" >B - memory</text>
<rect x="614.2" y="41.61" width="8.8" height="9.36" fill="#B81E48" />
<text x="625.7" y="48.61" font-size="6.8" text-anchor="start" fill="#222" >B - naive</text>
<rect x="614.2" y="50.82" width="8.8" height="9.36" fill="#D23B4E" />
<text x="625.7" y="57.82" font-size="6.8" text-anchor="start" fill="#222" >Dendritic - activated</text>
<rect x="614.2" y="60.03" width="8.8" height="9.36" fill="#E2524A" />
<text x="625.7" y="67.03" font-size="6.8" text-anchor="start" fill="#222" >Dendritic - resting</text>
<rect x="614.2" y="69.24" width="8.8" height="9.36" fill="#F16944" />
<text x="625.7" y="76.24" font-size="6.8" text-anchor="start" fill="#222" >Eosinophils</text>
<rect x="614.2" y="78.45" width="8.8" height="9.36" fill="#F7864E" />
<text x="625.7" y="85.45" font-size="6.8" text-anchor="start" fill="#222" >Macrophage – M0</text>
<rect x="614.2" y="87.65" width="8.8" height="9.36" fill="#FCA55D" />
<text x="625.7" y="94.66" font-size="6.8" text-anchor="start" fill="#222" >Macrophage – M1</text>
<rect x="614.2" y="96.86" width="8.8" height="9.36" fill="#FDBF6F" />
<text x="625.7" y="103.87" font-size="6.8" text-anchor="start" fill="#222" >Macrophage – M2</text>
<rect x="614.2" y="106.07" width="8.8" height="9.36" fill="#FED683" />
<text x="625.7" y="113.08" font-size="6.8" text-anchor="start" fill="#222" >Mast - activated</text>
<rect x="614.2" y="115.28" width="8.8" height="9.36" fill="#FEE99A" />
<text x="625.7" y="122.29" font-size="6.8" text-anchor="start" fill="#222" >Mast - resting</text>
<rect x="614.2" y="124.49" width="8.8" height="9.36" fill="#FFF8B3" />
<text x="625.7" y="131.5" font-size="6.8" text-anchor="start" fill="#222" >Monocytes</text>
<rect x="614.2" y="133.7" width="8.8" height="9.36" fill="#F9FDB6" />
<text x="625.7" y="140.7" font-size="6.8" text-anchor="start" fill="#222" >Neutrophils</text>
<rect x="614.2" y="142.91" width="8.8" height="9.36" fill="#EDF8A3" />
<text x="625.7" y="149.91" font-size="6.8" text-anchor="start" fill="#222" >NK activated</text>
<rect x="614.2" y="152.12" width="8.8" height="9.36" fill="#DBF09A" />
<text x="625.7" y="159.12" font-size="6.8" text-anchor="start" fill="#222" >NK resting</text>
<rect x="614.2" y="161.33" width="8.8" height="9.36" fill="#BFE5A0" />
<text x="625.7" y="168.33" font-size="6.8" text-anchor="start" fill="#222" >Plasma</text>
<rect x="614.2" y="170.54" width="8.8" height="9.36" fill="#A1D9A4" />
<text x="625.7" y="177.54" font-size="6.8" text-anchor="start" fill="#222" >T - CD4 mem. act.</text>
<rect x="614.2" y="179.75" width="8.8" height="9.36" fill="#80CCA5" />
<text x="625.7" y="186.75" font-size="6.8" text-anchor="start" fill="#222" >T - CD4 mem. rest.</text>
<rect x="614.2" y="188.95" width="8.8" height="9.36" fill="#61BCA7" />
<text x="625.7" y="195.96" font-size="6.8" text-anchor="start" fill="#222" >T - CD4 naive</text>
<rect x="614.2" y="198.16" width="8.8" height="9.36" fill="#48A1B3" />
<text x="625.7" y="205.17" font-size="6.8" text-anchor="start" fill="#222" >T - CD8</text>
<rect x="614.2" y="207.37" width="8.8" height="9.36" fill="#3485BC" />
<text x="625.7" y="214.38" font-size="6.8" text-anchor="start" fill="#222" >T - follicular helper</text>
<rect x="614.2" y="216.58" width="8.8" height="9.36" fill="#496AAF" />
<text x="625.7" y="223.59" font-size="6.8" text-anchor="start" fill="#222" >T - gamma delta</text>
<rect x="614.2" y="225.79" width="8.8" height="9.36" fill="#5E4FA2" />
<text x="625.7" y="232.8" font-size="6.8" text-anchor="start" fill="#222" >T - regulatory</text>
<rect x="30.1" y="239" width="384.2" height="7.7" fill="#FDBB63" />
<rect x="418.5" y="239" width="191.3" height="7.7" fill="#FC9ACB" />
<text x="222" y="245.3" font-size="7" text-anchor="middle" fill="#222" >Sensitive</text>
<text x="514" y="245.3" font-size="7" text-anchor="middle" fill="#222" >Resistant</text>
<rect x="30.1" y="248.2" width="125.67" height="8" fill="#CDE2CC" />
<rect x="154.97" y="248.2" width="87.25" height="8" fill="#8FC9CA" />
<rect x="241.41" y="248.2" width="172.89" height="8" fill="#9DCBB0" />
<rect x="418.5" y="248.2" width="67.76" height="8" fill="#CDE2CC" />
<rect x="485.46" y="248.2" width="48.62" height="8" fill="#8FC9CA" />
<rect x="533.28" y="248.2" width="76.52" height="8" fill="#9DCBB0" />
<text x="92.53" y="254.6" font-size="7" text-anchor="middle" fill="#222" >Diagnostic</text>
<text x="198.19" y="254.6" font-size="7" text-anchor="middle" fill="#222" >C1D1</text>
<text x="327.86" y="254.6" font-size="7" text-anchor="middle" fill="#222" >C1D15</text>
<text x="451.98" y="254.6" font-size="7" text-anchor="middle" fill="#222" >Diagnostic</text>
<text x="509.37" y="254.6" font-size="7" text-anchor="middle" fill="#222" >C1D1</text>
<text x="571.54" y="254.6" font-size="7" text-anchor="middle" fill="#222" >C1D15</text>
<rect x="30.1" y="257.9" width="10.41" height="8" fill="#11C811" />
<rect x="39.7" y="257.9" width="10.41" height="8" fill="#22A022" />
<rect x="49.31" y="257.9" width="10.41" height="8" fill="#4F654F" />
<rect x="58.92" y="257.9" width="10.41" height="8" fill="#22A022" />
<rect x="68.52" y="257.9" width="10.41" height="8" fill="#22A022" />
<rect x="78.12" y="257.9" width="10.41" height="8" fill="#2A9A2A" />
<rect x="87.73" y="257.9" width="10.41" height="8" fill="#11BB11" />
<rect x="97.34" y="257.9" width="10.41" height="8" fill="#4A4A4A" />
<rect x="106.94" y="257.9" width="10.41" height="8" fill="#555555" />
<rect x="116.55" y="257.9" width="10.41" height="8" fill="#22AA22" />
<rect x="126.15" y="257.9" width="10.41" height="8" fill="#3A8A3A" />
<rect x="135.75" y="257.9" width="10.41" height="8" fill="#1FAA1F" />
<rect x="145.36" y="257.9" width="10.41" height="8" fill="#22AA22" />
<rect x="154.97" y="257.9" width="10.41" height="8" fill="#11BB11" />
<rect x="164.57" y="257.9" width="10.41" height="8" fill="#11C811" />
<rect x="174.18" y="257.9" width="10.41" height="8" fill="#11C811" />
<rect x="183.78" y="257.9" width="10.41" height="8" fill="#444444" />
<rect x="193.38" y="257.9" width="10.41" height="8" fill="#22AA22" />
<rect x="202.99" y="257.9" width="10.41" height="8" fill="#151515" />
<rect x="212.59" y="257.9" width="10.41" height="8" fill="#11C811" />
<rect x="222.2" y="257.9" width="10.41" height="8" fill="#15B015" />
<rect x="231.81" y="257.9" width="10.41" height="8" fill="#15B015" />
<rect x="241.41" y="257.9" width="10.41" height="8" fill="#00D200" />
<rect x="251.02" y="257.9" width="10.41" height="8" fill="#00D200" />
<rect x="260.62" y="257.9" width="10.41" height="8" fill="#00D200" />
<rect x="270.23" y="257.9" width="10.41" height="8" fill="#00D200" />
<rect x="279.83" y="257.9" width="10.41" height="8" fill="#00D200" />
<rect x="289.44" y="257.9" width="10.41" height="8" fill="#00D200" />
<rect x="299.04" y="257.9" width="10.41" height="8" fill="#00D200" />
<rect x="308.65" y="257.9" width="10.41" height="8" fill="#00D200" />
<rect x="318.25" y="257.9" width="10.41" height="8" fill="#00D200" />
<rect x="327.86" y="257.9" width="10.41" height="8" fill="#00D200" />
<rect x="337.46" y="257.9" width="10.41" height="8" fill="#00D200" />
<rect x="347.07" y="257.9" width="10.41" height="8" fill="#00D200" />
<rect x="356.67" y="257.9" width="10.41" height="8" fill="#00D200" />
<rect x="366.28" y="257.9" width="10.41" height="8" fill="#00D200" />
<rect x="375.88" y="257.9" width="10.41" height="8" fill="#00D200" />
<rect x="385.49" y="257.9" width="10.41" height="8" fill="#00D200" />
<rect x="395.09" y="257.9" width="10.41" height="8" fill="#00D200" />
<rect x="404.7" y="257.9" width="9.61" height="8" fill="#00D200" />
<rect x="418.5" y="257.9" width="10.37" height="8" fill="#151515" />
<rect x="428.06" y="257.9" width="10.37" height="8" fill="#4B524B" />
<rect x="437.63" y="257.9" width="10.37" height="8" fill="#555555" />
<rect x="447.19" y="257.9" width="10.37" height="8" fill="#555555" />
<rect x="456.76" y="257.9" width="10.37" height="8" fill="#2E8B2E" />
<rect x="466.32" y="257.9" width="10.37" height="8" fill="#333333" />
<rect x="475.89" y="257.9" width="10.37" height="8" fill="#2A9A2A" />
<rect x="485.46" y="257.9" width="10.37" height="8" fill="#1A1A1A" />
<rect x="495.02" y="257.9" width="10.37" height="8" fill="#1A1A1A" />
<rect x="504.59" y="257.9" width="10.37" height="8" fill="#00CC00" />
<rect x="514.15" y="257.9" width="10.37" height="8" fill="#333333" />
<rect x="523.72" y="257.9" width="10.37" height="8" fill="#2A9A2A" />
<rect x="533.28" y="257.9" width="10.37" height="8" fill="#1A1A1A" />
<rect x="542.85" y="257.9" width="10.37" height="8" fill="#4A4A4A" />
<rect x="552.41" y="257.9" width="10.37" height="8" fill="#00CC00" />
<rect x="561.98" y="257.9" width="10.37" height="8" fill="#1A1A1A" />
<rect x="571.54" y="257.9" width="10.37" height="8" fill="#00CC00" />
<rect x="581.11" y="257.9" width="10.37" height="8" fill="#151515" />
<rect x="590.67" y="257.9" width="10.37" height="8" fill="#2E8B2E" />
<rect x="600.24" y="257.9" width="9.57" height="8" fill="#11BB11" />
<text x="611.8" y="246" font-size="6.9" text-anchor="start" fill="#222" >Response</text>
<text x="611.8" y="255" font-size="6.9" text-anchor="start" fill="#222" >Timepoint</text>
<text x="611.8" y="264.4" font-size="6.9" text-anchor="start" fill="#222" >IHC Ki67 (%)</text>
<defs><linearGradient id="kg" x1="0" y1="1" x2="0" y2="0"><stop offset="0" stop-color="#00E600"/><stop offset="0.4" stop-color="#2C7F2C"/><stop offset="0.4" stop-color="#505050"/><stop offset="0.85" stop-color="#151515"/><stop offset="1" stop-color="#0A0A0A"/></linearGradient></defs>
<rect x="657.4" y="238.9" width="7.4" height="27.9" fill="url(#kg)" />
<text x="666.2" y="245.6" font-size="5.8" text-anchor="start" fill="#222" >80</text>
<line x1="662.8" y1="243.6" x2="664.8" y2="243.6" stroke="#fff" stroke-width="0.6" />
<text x="666.2" y="257.8" font-size="5.8" text-anchor="start" fill="#222" >40</text>
<line x1="662.8" y1="255.8" x2="664.8" y2="255.8" stroke="#fff" stroke-width="0.6" />
<text x="666.2" y="268.6" font-size="5.8" text-anchor="start" fill="#222" >0</text>
<line x1="662.8" y1="266.6" x2="664.8" y2="266.6" stroke="#fff" stroke-width="0.6" />
<text x="0.2" y="290.7" font-size="18" text-anchor="start" fill="#000" font-weight="bold">B</text>
<text class="b" x="36.9" y="295.1" font-size="9" text-anchor="start" fill="#111" >T cell – CD8</text>
<line x1="35.8" y1="297.1" x2="188.8" y2="297.1" stroke="#111" stroke-width="0.95" />
<text class="b" x="93.8" y="307.8" font-size="9" text-anchor="middle" fill="#111" >All</text>
<text class="b" x="160.2" y="307.8" font-size="9" text-anchor="middle" fill="#111" >Paired</text>
<text class="b" transform="translate(41,368.6) rotate(-90)" font-size="9" text-anchor="middle" fill="#111">Cell abundance</text>
<line x1="61.5" y1="321.1" x2="61.5" y2="421.9" stroke="#444" stroke-width="0.9" />
<line x1="59.1" y1="421.5" x2="61.5" y2="421.5" stroke="#444" stroke-width="0.9" />
<text class="b" x="57.5" y="425.1" font-size="9" text-anchor="end" fill="#111" >0</text>
<line x1="59.1" y1="388.17" x2="61.5" y2="388.17" stroke="#444" stroke-width="0.9" />
<text class="b" x="57.5" y="391.77" font-size="9" text-anchor="end" fill="#111" >5</text>
<line x1="59.1" y1="354.83" x2="61.5" y2="354.83" stroke="#444" stroke-width="0.9" />
<text class="b" x="57.5" y="358.43" font-size="9" text-anchor="end" fill="#111" >10</text>
<line x1="59.1" y1="321.5" x2="61.5" y2="321.5" stroke="#444" stroke-width="0.9" />
<text class="b" x="57.5" y="325.1" font-size="9" text-anchor="end" fill="#111" >15</text>
<line x1="60.3" y1="421.5" x2="124.7" y2="421.5" stroke="#444" stroke-width="0.9" />
<line x1="130.1" y1="421.5" x2="194.7" y2="421.5" stroke="#999" stroke-width="1.3" />
<line x1="71.2" y1="421.5" x2="71.2" y2="423.7" stroke="#444" stroke-width="0.8" />
<line x1="85.7" y1="421.5" x2="85.7" y2="423.7" stroke="#444" stroke-width="0.8" />
<line x1="100.2" y1="421.5" x2="100.2" y2="423.7" stroke="#444" stroke-width="0.8" />
<line x1="114.7" y1="421.5" x2="114.7" y2="423.7" stroke="#444" stroke-width="0.8" />
<line x1="139.9" y1="421.5" x2="139.9" y2="423.7" stroke="#444" stroke-width="0.8" />
<line x1="154.4" y1="421.5" x2="154.4" y2="423.7" stroke="#444" stroke-width="0.8" />
<line x1="169.2" y1="421.5" x2="169.2" y2="423.7" stroke="#444" stroke-width="0.8" />
<line x1="183.2" y1="421.5" x2="183.2" y2="423.7" stroke="#444" stroke-width="0.8" />
<line x1="128.4" y1="425.5" x2="128.4" y2="321" stroke="#111" stroke-width="1" stroke-dasharray="3.5,2.6"/>
<text class="b" transform="translate(73.3,432.7) rotate(-45)" font-size="9.6" text-anchor="end" fill="#111">BL</text>
<text class="b" transform="translate(87.8,432.7) rotate(-45)" font-size="9.6" text-anchor="end" fill="#111">C1D15</text>
<text class="b" transform="translate(102.3,432.7) rotate(-45)" font-size="9.6" text-anchor="end" fill="#111">BL</text>
<text class="b" transform="translate(116.8,432.7) rotate(-45)" font-size="9.6" text-anchor="end" fill="#111">C1D15</text>
<text class="b" transform="translate(142,432.7) rotate(-45)" font-size="9.6" text-anchor="end" fill="#111">T1</text>
<text class="b" transform="translate(156.5,432.7) rotate(-45)" font-size="9.6" text-anchor="end" fill="#111">C1D15</text>
<text class="b" transform="translate(171.3,432.7) rotate(-45)" font-size="9.6" text-anchor="end" fill="#111">T1</text>
<text class="b" transform="translate(185.3,432.7) rotate(-45)" font-size="9.6" text-anchor="end" fill="#111">C1D15</text>
<line x1="86.1" y1="320.2" x2="114.7" y2="320.2" stroke="#000" stroke-width="0.9" />
<text x="100.7" y="318.6" font-size="5.6" text-anchor="middle" fill="#111" >NS</text>
<line x1="71.2" y1="329.4" x2="99.9" y2="329.4" stroke="#000" stroke-width="0.9" />
<text x="86.35" y="327.8" font-size="5.6" text-anchor="middle" fill="#111"><tspan font-style="italic">P</tspan> = 0.0359</text>
<line x1="72" y1="340.4" x2="85.5" y2="340.4" stroke="#000" stroke-width="0.9" />
<text x="79.55" y="338.8" font-size="5.6" text-anchor="middle" fill="#111"><tspan font-style="italic">P</tspan> = 0.0042</text>
<line x1="100.9" y1="340.4" x2="114.7" y2="340.4" stroke="#000" stroke-width="0.9" />
<text x="108.1" y="338.8" font-size="5.6" text-anchor="middle" fill="#111" >NS</text>
<line x1="140.7" y1="341" x2="155.1" y2="341" stroke="#000" stroke-width="0.9" />
<text x="148.7" y="339.4" font-size="5.6" text-anchor="middle" fill="#111"><tspan font-style="italic">P</tspan> = 0.0012</text>
<line x1="169.3" y1="341" x2="183.7" y2="341" stroke="#000" stroke-width="0.9" />
<text x="176.8" y="339.4" font-size="5.6" text-anchor="middle" fill="#111" >NS</text>
<circle cx="71.2" cy="392.17" r="1.9" fill="#E9AC52"/>
<circle cx="71.2" cy="406.17" r="1.9" fill="#E9AC52"/>
<circle cx="71.2" cy="412.83" r="1.9" fill="#E9AC52"/>
<circle cx="71.2" cy="417.5" r="1.9" fill="#E9AC52"/>
<circle cx="75.1" cy="418.17" r="1.9" fill="#E9AC52"/>
<circle cx="68.4" cy="418.5" r="1.9" fill="#E9AC52"/>
<circle cx="72.6" cy="418.83" r="1.9" fill="#E9AC52"/>
<circle cx="69.8" cy="419.17" r="1.9" fill="#E9AC52"/>
<circle cx="74" cy="419.5" r="1.9" fill="#E9AC52"/>
<circle cx="67.3" cy="419.83" r="1.9" fill="#E9AC52"/>
<circle cx="71.2" cy="420.17" r="1.9" fill="#E9AC52"/>
<circle cx="75.1" cy="420.5" r="1.9" fill="#E9AC52"/>
<circle cx="72.6" cy="420.83" r="1.9" fill="#E9AC52"/>
<circle cx="69.8" cy="420.97" r="1.9" fill="#E9AC52"/>
<circle cx="68.4" cy="421.17" r="1.9" fill="#E9AC52"/>
<circle cx="74" cy="421.37" r="1.9" fill="#E9AC52"/>
<circle cx="71.2" cy="421.5" r="1.9" fill="#E9AC52"/>
<line x1="66.4" y1="416.37" x2="76" y2="416.37" stroke="#111" stroke-width="0.9" />
<circle cx="85.7" cy="347.5" r="1.9" fill="#E9AC52"/>
<circle cx="85.7" cy="381.5" r="1.9" fill="#E9AC52"/>
<circle cx="85.7" cy="386.17" r="1.9" fill="#E9AC52"/>
<circle cx="88.5" cy="388.17" r="1.9" fill="#E9AC52"/>
<circle cx="85.7" cy="390.17" r="1.9" fill="#E9AC52"/>
<circle cx="85.7" cy="400.83" r="1.9" fill="#E9AC52"/>
<circle cx="85.7" cy="404.83" r="1.9" fill="#E9AC52"/>
<circle cx="85.7" cy="411.5" r="1.9" fill="#E9AC52"/>
<circle cx="85.7" cy="414.83" r="1.9" fill="#E9AC52"/>
<circle cx="88.5" cy="416.83" r="1.9" fill="#E9AC52"/>
<circle cx="85.7" cy="418.17" r="1.9" fill="#E9AC52"/>
<circle cx="81.8" cy="418.83" r="1.9" fill="#E9AC52"/>
<circle cx="89.6" cy="419.5" r="1.9" fill="#E9AC52"/>
<circle cx="87.1" cy="420.17" r="1.9" fill="#E9AC52"/>
<circle cx="84.3" cy="420.5" r="1.9" fill="#E9AC52"/>
<circle cx="81.8" cy="420.83" r="1.9" fill="#E9AC52"/>
<circle cx="88.5" cy="421.17" r="1.9" fill="#E9AC52"/>
<circle cx="85.7" cy="421.5" r="1.9" fill="#E9AC52"/>
<line x1="80.9" y1="402.83" x2="90.5" y2="402.83" stroke="#111" stroke-width="0.9" />
<circle cx="100.2" cy="377.5" r="1.9" fill="#FF8CC6"/>
<circle cx="100.2" cy="400.17" r="1.9" fill="#FF8CC6"/>
<circle cx="100.2" cy="406.83" r="1.9" fill="#FF8CC6"/>
<circle cx="100.2" cy="412.5" r="1.9" fill="#FF8CC6"/>
<circle cx="100.2" cy="415.5" r="1.9" fill="#FF8CC6"/>
<circle cx="103" cy="416.83" r="1.9" fill="#FF8CC6"/>
<circle cx="100.2" cy="420.83" r="1.9" fill="#FF8CC6"/>
<line x1="95.4" y1="407.17" x2="105" y2="407.17" stroke="#111" stroke-width="0.9" />
<circle cx="114.7" cy="395.5" r="1.9" fill="#FF8CC6"/>
<circle cx="117.5" cy="397.5" r="1.9" fill="#FF8CC6"/>
<circle cx="114.7" cy="399.17" r="1.9" fill="#FF8CC6"/>
<circle cx="114.7" cy="414.83" r="1.9" fill="#FF8CC6"/>
<circle cx="117.5" cy="416.83" r="1.9" fill="#FF8CC6"/>
<circle cx="114.7" cy="418.83" r="1.9" fill="#FF8CC6"/>
<circle cx="117.5" cy="420.17" r="1.9" fill="#FF8CC6"/>
<circle cx="111.9" cy="421.17" r="1.9" fill="#FF8CC6"/>
<line x1="109.9" y1="410.37" x2="119.5" y2="410.37" stroke="#111" stroke-width="0.9" />
<line x1="139.9" y1="392.17" x2="154.4" y2="388.17" stroke="#000" stroke-width="0.75" />
<line x1="139.9" y1="406.5" x2="154.4" y2="386.17" stroke="#000" stroke-width="0.75" />
<line x1="139.9" y1="411.5" x2="154.4" y2="347.83" stroke="#000" stroke-width="0.75" />
<line x1="139.9" y1="414.83" x2="154.4" y2="381.5" stroke="#000" stroke-width="0.75" />
<line x1="139.9" y1="416.17" x2="154.4" y2="390.17" stroke="#000" stroke-width="0.75" />
<line x1="139.9" y1="417.5" x2="154.4" y2="400.83" stroke="#000" stroke-width="0.75" />
<line x1="139.9" y1="418.17" x2="154.4" y2="405.5" stroke="#000" stroke-width="0.75" />
<line x1="139.9" y1="418.83" x2="154.4" y2="411.5" stroke="#000" stroke-width="0.75" />
<line x1="139.9" y1="419.5" x2="154.4" y2="414.83" stroke="#000" stroke-width="0.75" />
<line x1="139.9" y1="420.17" x2="154.4" y2="418.17" stroke="#000" stroke-width="0.75" />
<line x1="139.9" y1="420.83" x2="154.4" y2="420.17" stroke="#000" stroke-width="0.75" />
<line x1="139.9" y1="421.17" x2="154.4" y2="420.83" stroke="#000" stroke-width="0.75" />
<line x1="139.9" y1="421.5" x2="154.4" y2="421.17" stroke="#000" stroke-width="0.75" />
<line x1="139.9" y1="420.5" x2="154.4" y2="419.5" stroke="#000" stroke-width="0.75" />
<line x1="139.9" y1="421.5" x2="154.4" y2="421.5" stroke="#000" stroke-width="0.75" />
<circle cx="139.9" cy="392.17" r="1.9" fill="#E9AC52"/>
<circle cx="154.4" cy="388.17" r="1.9" fill="#E9AC52"/>
<circle cx="139.9" cy="406.5" r="1.9" fill="#E9AC52"/>
<circle cx="154.4" cy="386.17" r="1.9" fill="#E9AC52"/>
<circle cx="139.9" cy="411.5" r="1.9" fill="#E9AC52"/>
<circle cx="154.4" cy="347.83" r="1.9" fill="#E9AC52"/>
<circle cx="139.9" cy="414.83" r="1.9" fill="#E9AC52"/>
<circle cx="154.4" cy="381.5" r="1.9" fill="#E9AC52"/>
<circle cx="139.9" cy="416.17" r="1.9" fill="#E9AC52"/>
<circle cx="154.4" cy="390.17" r="1.9" fill="#E9AC52"/>
<circle cx="139.9" cy="417.5" r="1.9" fill="#E9AC52"/>
<circle cx="154.4" cy="400.83" r="1.9" fill="#E9AC52"/>
<circle cx="139.9" cy="418.17" r="1.9" fill="#E9AC52"/>
<circle cx="154.4" cy="405.5" r="1.9" fill="#E9AC52"/>
<circle cx="139.9" cy="418.83" r="1.9" fill="#E9AC52"/>
<circle cx="154.4" cy="411.5" r="1.9" fill="#E9AC52"/>
<circle cx="139.9" cy="419.5" r="1.9" fill="#E9AC52"/>
<circle cx="154.4" cy="414.83" r="1.9" fill="#E9AC52"/>
<circle cx="139.9" cy="420.17" r="1.9" fill="#E9AC52"/>
<circle cx="154.4" cy="418.17" r="1.9" fill="#E9AC52"/>
<circle cx="139.9" cy="420.83" r="1.9" fill="#E9AC52"/>
<circle cx="154.4" cy="420.17" r="1.9" fill="#E9AC52"/>
<circle cx="139.9" cy="421.17" r="1.9" fill="#E9AC52"/>
<circle cx="154.4" cy="420.83" r="1.9" fill="#E9AC52"/>
<circle cx="139.9" cy="421.5" r="1.9" fill="#E9AC52"/>
<circle cx="154.4" cy="421.17" r="1.9" fill="#E9AC52"/>
<circle cx="139.9" cy="420.5" r="1.9" fill="#E9AC52"/>
<circle cx="154.4" cy="419.5" r="1.9" fill="#E9AC52"/>
<circle cx="139.9" cy="421.5" r="1.9" fill="#E9AC52"/>
<circle cx="154.4" cy="421.5" r="1.9" fill="#E9AC52"/>
<line x1="169.2" y1="377.5" x2="183.2" y2="415.17" stroke="#000" stroke-width="0.75" />
<line x1="169.2" y1="400.17" x2="183.2" y2="397.83" stroke="#000" stroke-width="0.75" />
<line x1="169.2" y1="415.5" x2="183.2" y2="419.03" stroke="#000" stroke-width="0.75" />
<line x1="169.2" y1="420.83" x2="183.2" y2="420.83" stroke="#000" stroke-width="0.75" />
<circle cx="169.2" cy="377.5" r="1.9" fill="#FF8CC6"/>
<circle cx="183.2" cy="415.17" r="1.9" fill="#FF8CC6"/>
<circle cx="169.2" cy="400.17" r="1.9" fill="#FF8CC6"/>
<circle cx="183.2" cy="397.83" r="1.9" fill="#FF8CC6"/>
<circle cx="169.2" cy="415.5" r="1.9" fill="#FF8CC6"/>
<circle cx="183.2" cy="419.03" r="1.9" fill="#FF8CC6"/>
<circle cx="169.2" cy="420.83" r="1.9" fill="#FF8CC6"/>
<circle cx="183.2" cy="420.83" r="1.9" fill="#FF8CC6"/>
<text class="b" x="204.7" y="295.1" font-size="9" text-anchor="start" fill="#111" >NK cell - activated</text>
<line x1="203.6" y1="297.1" x2="356.6" y2="297.1" stroke="#111" stroke-width="0.95" />
<text class="b" x="261.6" y="307.8" font-size="9" text-anchor="middle" fill="#111" >All</text>
<text class="b" x="328" y="307.8" font-size="9" text-anchor="middle" fill="#111" >Paired</text>
<text class="b" transform="translate(208.1,368.6) rotate(-90)" font-size="9" text-anchor="middle" fill="#111">Cell abundance</text>
<line x1="229.3" y1="321.1" x2="229.3" y2="421.9" stroke="#444" stroke-width="0.9" />
<line x1="226.9" y1="421.5" x2="229.3" y2="421.5" stroke="#444" stroke-width="0.9" />
<text class="b" x="225.3" y="425.1" font-size="9" text-anchor="end" fill="#111" >0</text>
<line x1="226.9" y1="371.5" x2="229.3" y2="371.5" stroke="#444" stroke-width="0.9" />
<text class="b" x="225.3" y="375.1" font-size="9" text-anchor="end" fill="#111" >5</text>
<line x1="226.9" y1="321.5" x2="229.3" y2="321.5" stroke="#444" stroke-width="0.9" />
<text class="b" x="225.3" y="325.1" font-size="9" text-anchor="end" fill="#111" >10</text>
<line x1="228.1" y1="421.5" x2="292.5" y2="421.5" stroke="#aaa" stroke-width="1.6" />
<line x1="297.8" y1="421.5" x2="362.5" y2="421.5" stroke="#aaa" stroke-width="1.6" />
<line x1="239" y1="421.5" x2="239" y2="423.7" stroke="#aaa" stroke-width="0.8" />
<line x1="253.5" y1="421.5" x2="253.5" y2="423.7" stroke="#aaa" stroke-width="0.8" />
<line x1="268" y1="421.5" x2="268" y2="423.7" stroke="#aaa" stroke-width="0.8" />
<line x1="282.5" y1="421.5" x2="282.5" y2="423.7" stroke="#aaa" stroke-width="0.8" />
<line x1="307.8" y1="421.5" x2="307.8" y2="423.7" stroke="#aaa" stroke-width="0.8" />
<line x1="322.3" y1="421.5" x2="322.3" y2="423.7" stroke="#aaa" stroke-width="0.8" />
<line x1="336.8" y1="421.5" x2="336.8" y2="423.7" stroke="#aaa" stroke-width="0.8" />
<line x1="351" y1="421.5" x2="351" y2="423.7" stroke="#aaa" stroke-width="0.8" />
<line x1="296.1" y1="425.5" x2="296.1" y2="321" stroke="#111" stroke-width="1" stroke-dasharray="3.5,2.6"/>
<text class="b" transform="translate(241.1,432.7) rotate(-45)" font-size="9.6" text-anchor="end" fill="#111">BL</text>
<text class="b" transform="translate(255.6,432.7) rotate(-45)" font-size="9.6" text-anchor="end" fill="#111">C1D15</text>
<text class="b" transform="translate(270.1,432.7) rotate(-45)" font-size="9.6" text-anchor="end" fill="#111">BL</text>
<text class="b" transform="translate(284.6,432.7) rotate(-45)" font-size="9.6" text-anchor="end" fill="#111">C1D15</text>
<text class="b" transform="translate(309.9,432.7) rotate(-45)" font-size="9.6" text-anchor="end" fill="#111">T1</text>
<text class="b" transform="translate(324.4,432.7) rotate(-45)" font-size="9.6" text-anchor="end" fill="#111">C1D15</text>
<text class="b" transform="translate(338.9,432.7) rotate(-45)" font-size="9.6" text-anchor="end" fill="#111">T1</text>
<text class="b" transform="translate(353.1,432.7) rotate(-45)" font-size="9.6" text-anchor="end" fill="#111">C1D15</text>
<line x1="254.1" y1="320.2" x2="282.6" y2="320.2" stroke="#000" stroke-width="0.9" />
<text x="268.65" y="318.6" font-size="5.6" text-anchor="middle" fill="#111" >NS</text>
<line x1="239.2" y1="329.4" x2="267.7" y2="329.4" stroke="#000" stroke-width="0.9" />
<text x="253.75" y="327.8" font-size="5.6" text-anchor="middle" fill="#111" >NS</text>
<line x1="240.3" y1="340.4" x2="253.7" y2="340.4" stroke="#000" stroke-width="0.9" />
<text x="246.6" y="338.8" font-size="5.6" text-anchor="middle" fill="#111"><tspan font-style="italic">P</tspan> = 0.0005</text>
<line x1="268" y1="340.4" x2="281.9" y2="340.4" stroke="#000" stroke-width="0.9" />
<text x="277.15" y="338.8" font-size="5.6" text-anchor="middle" fill="#111"><tspan font-style="italic">P</tspan> = 0.0186</text>
<line x1="308.5" y1="340.5" x2="323" y2="340.5" stroke="#000" stroke-width="0.9" />
<text x="316.55" y="338.9" font-size="5.6" text-anchor="middle" fill="#111"><tspan font-style="italic">P</tspan> = 0.0004</text>
<line x1="335.7" y1="340.5" x2="349.9" y2="340.5" stroke="#000" stroke-width="0.9" />
<text x="343.1" y="338.9" font-size="5.6" text-anchor="middle" fill="#111" >NS</text>
<circle cx="239" cy="409.5" r="1.9" fill="#E9AC52"/>
<circle cx="239" cy="414.8" r="1.9" fill="#E9AC52"/>
<circle cx="239" cy="418.5" r="1.9" fill="#E9AC52"/>
<circle cx="242.9" cy="419" r="1.9" fill="#E9AC52"/>
<circle cx="236.2" cy="419.5" r="1.9" fill="#E9AC52"/>
<circle cx="240.4" cy="419.5" r="1.9" fill="#E9AC52"/>
<circle cx="239" cy="420" r="1.9" fill="#E9AC52"/>
<circle cx="241.8" cy="420.5" r="1.9" fill="#E9AC52"/>
<circle cx="237.6" cy="420.5" r="1.9" fill="#E9AC52"/>
<circle cx="235.1" cy="420.7" r="1.9" fill="#E9AC52"/>
<circle cx="240.4" cy="421" r="1.9" fill="#E9AC52"/>
<circle cx="242.9" cy="421.2" r="1.9" fill="#E9AC52"/>
<circle cx="239" cy="421.3" r="1.9" fill="#E9AC52"/>
<circle cx="236.2" cy="421.5" r="1.9" fill="#E9AC52"/>
<circle cx="237.6" cy="421.5" r="1.9" fill="#E9AC52"/>
<line x1="234.2" y1="419.9" x2="243.8" y2="419.9" stroke="#111" stroke-width="0.9" />
<circle cx="253.5" cy="361.5" r="1.9" fill="#E9AC52"/>
<circle cx="253.5" cy="381.8" r="1.9" fill="#E9AC52"/>
<circle cx="257.4" cy="381.8" r="1.9" fill="#E9AC52"/>
<circle cx="253.5" cy="399.5" r="1.9" fill="#E9AC52"/>
<circle cx="253.5" cy="402.9" r="1.9" fill="#E9AC52"/>
<circle cx="253.5" cy="406.5" r="1.9" fill="#E9AC52"/>
<circle cx="256.3" cy="408.5" r="1.9" fill="#E9AC52"/>
<circle cx="253.5" cy="410.5" r="1.9" fill="#E9AC52"/>
<circle cx="256.3" cy="412.5" r="1.9" fill="#E9AC52"/>
<circle cx="253.5" cy="414.5" r="1.9" fill="#E9AC52"/>
<circle cx="256.3" cy="415.5" r="1.9" fill="#E9AC52"/>
<circle cx="250.7" cy="416.5" r="1.9" fill="#E9AC52"/>
<circle cx="253.5" cy="417.5" r="1.9" fill="#E9AC52"/>
<circle cx="256.3" cy="418.5" r="1.9" fill="#E9AC52"/>
<circle cx="250.7" cy="419.5" r="1.9" fill="#E9AC52"/>
<circle cx="253.5" cy="420.5" r="1.9" fill="#E9AC52"/>
<circle cx="257.4" cy="421" r="1.9" fill="#E9AC52"/>
<circle cx="249.6" cy="421.5" r="1.9" fill="#E9AC52"/>
<line x1="248.7" y1="407.4" x2="258.3" y2="407.4" stroke="#111" stroke-width="0.9" />
<circle cx="268" cy="402.5" r="1.9" fill="#FF8CC6"/>
<circle cx="268" cy="418.5" r="1.9" fill="#FF8CC6"/>
<circle cx="270.8" cy="419.5" r="1.9" fill="#FF8CC6"/>
<circle cx="265.2" cy="420" r="1.9" fill="#FF8CC6"/>
<circle cx="268" cy="420.5" r="1.9" fill="#FF8CC6"/>
<circle cx="271.9" cy="421" r="1.9" fill="#FF8CC6"/>
<circle cx="264.1" cy="421.5" r="1.9" fill="#FF8CC6"/>
<line x1="263.2" y1="418.5" x2="272.8" y2="418.5" stroke="#111" stroke-width="0.9" />
<circle cx="282.5" cy="391.5" r="1.9" fill="#FF8CC6"/>
<circle cx="282.5" cy="399.5" r="1.9" fill="#FF8CC6"/>
<circle cx="282.5" cy="409.2" r="1.9" fill="#FF8CC6"/>
<circle cx="282.5" cy="412.5" r="1.9" fill="#FF8CC6"/>
<circle cx="285.3" cy="413.5" r="1.9" fill="#FF8CC6"/>
<circle cx="282.5" cy="418.5" r="1.9" fill="#FF8CC6"/>
<circle cx="285.3" cy="419.5" r="1.9" fill="#FF8CC6"/>
<circle cx="279.7" cy="421" r="1.9" fill="#FF8CC6"/>
<line x1="277.7" y1="411" x2="287.3" y2="411" stroke="#111" stroke-width="0.9" />
<line x1="307.8" y1="409.5" x2="322.3" y2="361.2" stroke="#000" stroke-width="0.75" />
<line x1="307.8" y1="414.3" x2="322.3" y2="382.2" stroke="#000" stroke-width="0.75" />
<line x1="307.8" y1="418.5" x2="322.3" y2="399.5" stroke="#000" stroke-width="0.75" />
<line x1="307.8" y1="419" x2="322.3" y2="402.5" stroke="#000" stroke-width="0.75" />
<line x1="307.8" y1="419.5" x2="322.3" y2="406.5" stroke="#000" stroke-width="0.75" />
<line x1="307.8" y1="420" x2="322.3" y2="408.5" stroke="#000" stroke-width="0.75" />
<line x1="307.8" y1="420.5" x2="322.3" y2="410.5" stroke="#000" stroke-width="0.75" />
<line x1="307.8" y1="420.5" x2="322.3" y2="412.5" stroke="#000" stroke-width="0.75" />
<line x1="307.8" y1="421" x2="322.3" y2="414.5" stroke="#000" stroke-width="0.75" />
<line x1="307.8" y1="421" x2="322.3" y2="416.5" stroke="#000" stroke-width="0.75" />
<line x1="307.8" y1="421.5" x2="322.3" y2="418.5" stroke="#000" stroke-width="0.75" />
<line x1="307.8" y1="421.5" x2="322.3" y2="420.5" stroke="#000" stroke-width="0.75" />
<line x1="307.8" y1="418.5" x2="322.3" y2="421.5" stroke="#000" stroke-width="0.75" />
<line x1="307.8" y1="419.5" x2="322.3" y2="417.5" stroke="#000" stroke-width="0.75" />
<circle cx="307.8" cy="409.5" r="1.9" fill="#E9AC52"/>
<circle cx="322.3" cy="361.2" r="1.9" fill="#E9AC52"/>
<circle cx="307.8" cy="414.3" r="1.9" fill="#E9AC52"/>
<circle cx="322.3" cy="382.2" r="1.9" fill="#E9AC52"/>
<circle cx="307.8" cy="418.5" r="1.9" fill="#E9AC52"/>
<circle cx="322.3" cy="399.5" r="1.9" fill="#E9AC52"/>
<circle cx="307.8" cy="419" r="1.9" fill="#E9AC52"/>
<circle cx="322.3" cy="402.5" r="1.9" fill="#E9AC52"/>
<circle cx="307.8" cy="419.5" r="1.9" fill="#E9AC52"/>
<circle cx="322.3" cy="406.5" r="1.9" fill="#E9AC52"/>
<circle cx="307.8" cy="420" r="1.9" fill="#E9AC52"/>
<circle cx="322.3" cy="408.5" r="1.9" fill="#E9AC52"/>
<circle cx="307.8" cy="420.5" r="1.9" fill="#E9AC52"/>
<circle cx="322.3" cy="410.5" r="1.9" fill="#E9AC52"/>
<circle cx="307.8" cy="420.5" r="1.9" fill="#E9AC52"/>
<circle cx="322.3" cy="412.5" r="1.9" fill="#E9AC52"/>
<circle cx="307.8" cy="421" r="1.9" fill="#E9AC52"/>
<circle cx="322.3" cy="414.5" r="1.9" fill="#E9AC52"/>
<circle cx="307.8" cy="421" r="1.9" fill="#E9AC52"/>
<circle cx="322.3" cy="416.5" r="1.9" fill="#E9AC52"/>
<circle cx="307.8" cy="421.5" r="1.9" fill="#E9AC52"/>
<circle cx="322.3" cy="418.5" r="1.9" fill="#E9AC52"/>
<circle cx="307.8" cy="421.5" r="1.9" fill="#E9AC52"/>
<circle cx="322.3" cy="420.5" r="1.9" fill="#E9AC52"/>
<circle cx="307.8" cy="418.5" r="1.9" fill="#E9AC52"/>
<circle cx="322.3" cy="421.5" r="1.9" fill="#E9AC52"/>
<circle cx="307.8" cy="419.5" r="1.9" fill="#E9AC52"/>
<circle cx="322.3" cy="417.5" r="1.9" fill="#E9AC52"/>
<line x1="336.8" y1="402.5" x2="351" y2="399.5" stroke="#000" stroke-width="0.75" />
<line x1="336.8" y1="418.5" x2="351" y2="391.5" stroke="#000" stroke-width="0.75" />
<line x1="336.8" y1="419.5" x2="351" y2="418" stroke="#000" stroke-width="0.75" />
<line x1="336.8" y1="420.5" x2="351" y2="419.5" stroke="#000" stroke-width="0.75" />
<line x1="336.8" y1="421" x2="351" y2="420.5" stroke="#000" stroke-width="0.75" />
<circle cx="336.8" cy="402.5" r="1.9" fill="#FF8CC6"/>
<circle cx="351" cy="399.5" r="1.9" fill="#FF8CC6"/>
<circle cx="336.8" cy="418.5" r="1.9" fill="#FF8CC6"/>
<circle cx="351" cy="391.5" r="1.9" fill="#FF8CC6"/>
<circle cx="336.8" cy="419.5" r="1.9" fill="#FF8CC6"/>
<circle cx="351" cy="418" r="1.9" fill="#FF8CC6"/>
<circle cx="336.8" cy="420.5" r="1.9" fill="#FF8CC6"/>
<circle cx="351" cy="419.5" r="1.9" fill="#FF8CC6"/>
<circle cx="336.8" cy="421" r="1.9" fill="#FF8CC6"/>
<circle cx="351" cy="420.5" r="1.9" fill="#FF8CC6"/>
<text class="b" x="376" y="295.1" font-size="9" text-anchor="start" fill="#111" >Plasma cell</text>
<line x1="375.9" y1="297.1" x2="528.9" y2="297.1" stroke="#111" stroke-width="0.95" />
<text class="b" x="433.9" y="307.8" font-size="9" text-anchor="middle" fill="#111" >All</text>
<text class="b" x="500.3" y="307.8" font-size="9" text-anchor="middle" fill="#111" >Paired</text>
<text class="b" transform="translate(380.4,368.6) rotate(-90)" font-size="9" text-anchor="middle" fill="#111">Cell abundance</text>
<line x1="401.6" y1="321.1" x2="401.6" y2="421.9" stroke="#444" stroke-width="0.9" />
<line x1="399.2" y1="421.5" x2="401.6" y2="421.5" stroke="#444" stroke-width="0.9" />
<text class="b" x="397.6" y="425.1" font-size="9" text-anchor="end" fill="#111" >0</text>
<line x1="399.2" y1="388.17" x2="401.6" y2="388.17" stroke="#444" stroke-width="0.9" />
<text class="b" x="397.6" y="391.77" font-size="9" text-anchor="end" fill="#111" >10</text>
<line x1="399.2" y1="354.83" x2="401.6" y2="354.83" stroke="#444" stroke-width="0.9" />
<text class="b" x="397.6" y="358.43" font-size="9" text-anchor="end" fill="#111" >20</text>
<line x1="399.2" y1="321.5" x2="401.6" y2="321.5" stroke="#444" stroke-width="0.9" />
<text class="b" x="397.6" y="325.1" font-size="9" text-anchor="end" fill="#111" >30</text>
<line x1="400.4" y1="421.5" x2="464.8" y2="421.5" stroke="#888" stroke-width="1.3" />
<line x1="468.3" y1="421.5" x2="532.9" y2="421.5" stroke="#888" stroke-width="1.3" />
<line x1="411.3" y1="421.5" x2="411.3" y2="423.7" stroke="#888" stroke-width="0.8" />
<line x1="425.8" y1="421.5" x2="425.8" y2="423.7" stroke="#888" stroke-width="0.8" />
<line x1="440.3" y1="421.5" x2="440.3" y2="423.7" stroke="#888" stroke-width="0.8" />
<line x1="454.8" y1="421.5" x2="454.8" y2="423.7" stroke="#888" stroke-width="0.8" />
<line x1="478.6" y1="421.5" x2="478.6" y2="423.7" stroke="#888" stroke-width="0.8" />
<line x1="493.3" y1="421.5" x2="493.3" y2="423.7" stroke="#888" stroke-width="0.8" />
<line x1="508" y1="421.5" x2="508" y2="423.7" stroke="#888" stroke-width="0.8" />
<line x1="522.4" y1="421.5" x2="522.4" y2="423.7" stroke="#888" stroke-width="0.8" />
<line x1="466.6" y1="425.5" x2="466.6" y2="321" stroke="#111" stroke-width="1" stroke-dasharray="3.5,2.6"/>
<text class="b" transform="translate(413.4,432.7) rotate(-45)" font-size="9.6" text-anchor="end" fill="#111">BL</text>
<text class="b" transform="translate(427.9,432.7) rotate(-45)" font-size="9.6" text-anchor="end" fill="#111">C1D15</text>
<text class="b" transform="translate(442.4,432.7) rotate(-45)" font-size="9.6" text-anchor="end" fill="#111">BL</text>
<text class="b" transform="translate(456.9,432.7) rotate(-45)" font-size="9.6" text-anchor="end" fill="#111">C1D15</text>
<text class="b" transform="translate(480.7,432.7) rotate(-45)" font-size="9.6" text-anchor="end" fill="#111">T1</text>
<text class="b" transform="translate(495.4,432.7) rotate(-45)" font-size="9.6" text-anchor="end" fill="#111">C1D15</text>
<text class="b" transform="translate(510.1,432.7) rotate(-45)" font-size="9.6" text-anchor="end" fill="#111">T1</text>
<text class="b" transform="translate(524.5,432.7) rotate(-45)" font-size="9.6" text-anchor="end" fill="#111">C1D15</text>
<line x1="424.7" y1="320.1" x2="453.5" y2="320.1" stroke="#000" stroke-width="0.9" />
<text x="439.9" y="318.5" font-size="5.6" text-anchor="middle" fill="#111"><tspan font-style="italic">P</tspan> = 0.0470</text>
<line x1="412" y1="329" x2="440.8" y2="329" stroke="#000" stroke-width="0.9" />
<text x="426.7" y="327.4" font-size="5.6" text-anchor="middle" fill="#111" >NS</text>
<line x1="412" y1="340.5" x2="426.1" y2="340.5" stroke="#000" stroke-width="0.9" />
<text x="419.85" y="338.9" font-size="5.6" text-anchor="middle" fill="#111"><tspan font-style="italic">P</tspan> = 0.0042</text>
<line x1="440.1" y1="340.5" x2="453.9" y2="340.5" stroke="#000" stroke-width="0.9" />
<text x="447.3" y="338.9" font-size="5.6" text-anchor="middle" fill="#111" >NS</text>
<line x1="480" y1="340.5" x2="494" y2="340.5" stroke="#000" stroke-width="0.9" />
<text x="487.8" y="338.9" font-size="5.6" text-anchor="middle" fill="#111"><tspan font-style="italic">P</tspan> = 0.0004</text>
<line x1="508" y1="340.5" x2="522.1" y2="340.5" stroke="#000" stroke-width="0.9" />
<text x="515.35" y="338.9" font-size="5.6" text-anchor="middle" fill="#111" >NS</text>
<circle cx="411.3" cy="413.83" r="1.9" fill="#E9AC52"/>
<circle cx="414.1" cy="414.83" r="1.9" fill="#E9AC52"/>
<circle cx="408.5" cy="415.5" r="1.9" fill="#E9AC52"/>
<circle cx="411.3" cy="416.5" r="1.9" fill="#E9AC52"/>
<circle cx="415.2" cy="417.17" r="1.9" fill="#E9AC52"/>
<circle cx="407.4" cy="417.83" r="1.9" fill="#E9AC52"/>
<circle cx="412.7" cy="418.5" r="1.9" fill="#E9AC52"/>
<circle cx="409.9" cy="419.17" r="1.9" fill="#E9AC52"/>
<circle cx="415.2" cy="419.83" r="1.9" fill="#E9AC52"/>
<circle cx="407.4" cy="420.17" r="1.9" fill="#E9AC52"/>
<circle cx="412.7" cy="420.5" r="1.9" fill="#E9AC52"/>
<circle cx="409.9" cy="420.83" r="1.9" fill="#E9AC52"/>
<circle cx="414.1" cy="421.17" r="1.9" fill="#E9AC52"/>
<circle cx="408.5" cy="421.33" r="1.9" fill="#E9AC52"/>
<circle cx="411.3" cy="421.5" r="1.9" fill="#E9AC52"/>
<line x1="406.5" y1="419.5" x2="416.1" y2="419.5" stroke="#111" stroke-width="0.9" />
<circle cx="425.8" cy="392.17" r="1.9" fill="#E9AC52"/>
<circle cx="428.6" cy="393.17" r="1.9" fill="#E9AC52"/>
<circle cx="425.8" cy="403.83" r="1.9" fill="#E9AC52"/>
<circle cx="428.6" cy="405.83" r="1.9" fill="#E9AC52"/>
<circle cx="425.8" cy="410.83" r="1.9" fill="#E9AC52"/>
<circle cx="428.6" cy="412.83" r="1.9" fill="#E9AC52"/>
<circle cx="425.8" cy="413.83" r="1.9" fill="#E9AC52"/>
<circle cx="423" cy="414.83" r="1.9" fill="#E9AC52"/>
<circle cx="429.7" cy="415.17" r="1.9" fill="#E9AC52"/>
<circle cx="427.2" cy="415.83" r="1.9" fill="#E9AC52"/>
<circle cx="424.4" cy="416.83" r="1.9" fill="#E9AC52"/>
<circle cx="421.9" cy="417.83" r="1.9" fill="#E9AC52"/>
<circle cx="427.2" cy="418.83" r="1.9" fill="#E9AC52"/>
<circle cx="424.4" cy="419.5" r="1.9" fill="#E9AC52"/>
<circle cx="429.7" cy="419.83" r="1.9" fill="#E9AC52"/>
<circle cx="421.9" cy="420.5" r="1.9" fill="#E9AC52"/>
<circle cx="427.2" cy="421.17" r="1.9" fill="#E9AC52"/>
<circle cx="424.4" cy="421.5" r="1.9" fill="#E9AC52"/>
<line x1="421" y1="413.17" x2="430.6" y2="413.17" stroke="#111" stroke-width="0.9" />
<circle cx="440.3" cy="348.17" r="1.9" fill="#FF8CC6"/>
<circle cx="440.3" cy="389.5" r="1.9" fill="#FF8CC6"/>
<circle cx="440.3" cy="414.83" r="1.9" fill="#FF8CC6"/>
<circle cx="440.3" cy="419.83" r="1.9" fill="#FF8CC6"/>
<circle cx="443.1" cy="420.83" r="1.9" fill="#FF8CC6"/>
<circle cx="437.5" cy="421.17" r="1.9" fill="#FF8CC6"/>
<circle cx="440.3" cy="421.33" r="1.9" fill="#FF8CC6"/>
<line x1="435.5" y1="405.5" x2="445.1" y2="405.5" stroke="#111" stroke-width="0.9" />
<circle cx="454.8" cy="412.5" r="1.9" fill="#FF8CC6"/>
<circle cx="457.6" cy="413.5" r="1.9" fill="#FF8CC6"/>
<circle cx="454.8" cy="418.17" r="1.9" fill="#FF8CC6"/>
<circle cx="457.6" cy="419.17" r="1.9" fill="#FF8CC6"/>
<circle cx="452" cy="419.83" r="1.9" fill="#FF8CC6"/>
<circle cx="454.8" cy="420.83" r="1.9" fill="#FF8CC6"/>
<circle cx="458.7" cy="421.17" r="1.9" fill="#FF8CC6"/>
<circle cx="450.9" cy="421.33" r="1.9" fill="#FF8CC6"/>
<line x1="450" y1="418.83" x2="459.6" y2="418.83" stroke="#111" stroke-width="0.9" />
<line x1="478.6" y1="413.83" x2="493.3" y2="392.5" stroke="#000" stroke-width="0.75" />
<line x1="478.6" y1="414.83" x2="493.3" y2="403.83" stroke="#000" stroke-width="0.75" />
<line x1="478.6" y1="415.5" x2="493.3" y2="406.5" stroke="#000" stroke-width="0.75" />
<line x1="478.6" y1="416.5" x2="493.3" y2="412.5" stroke="#000" stroke-width="0.75" />
<line x1="478.6" y1="417.17" x2="493.3" y2="413.83" stroke="#000" stroke-width="0.75" />
<line x1="478.6" y1="418.17" x2="493.3" y2="414.83" stroke="#000" stroke-width="0.75" />
<line x1="478.6" y1="418.83" x2="493.3" y2="416.5" stroke="#000" stroke-width="0.75" />
<line x1="478.6" y1="419.83" x2="493.3" y2="418.17" stroke="#000" stroke-width="0.75" />
<line x1="478.6" y1="420.5" x2="493.3" y2="419.5" stroke="#000" stroke-width="0.75" />
<line x1="478.6" y1="420.83" x2="493.3" y2="420.5" stroke="#000" stroke-width="0.75" />
<line x1="478.6" y1="421.17" x2="493.3" y2="421.17" stroke="#000" stroke-width="0.75" />
<line x1="478.6" y1="421.5" x2="493.3" y2="421.5" stroke="#000" stroke-width="0.75" />
<line x1="478.6" y1="417.5" x2="493.3" y2="417.5" stroke="#000" stroke-width="0.75" />
<line x1="478.6" y1="419.5" x2="493.3" y2="420.17" stroke="#000" stroke-width="0.75" />
<circle cx="478.6" cy="413.83" r="1.9" fill="#E9AC52"/>
<circle cx="493.3" cy="392.5" r="1.9" fill="#E9AC52"/>
<circle cx="478.6" cy="414.83" r="1.9" fill="#E9AC52"/>
<circle cx="493.3" cy="403.83" r="1.9" fill="#E9AC52"/>
<circle cx="478.6" cy="415.5" r="1.9" fill="#E9AC52"/>
<circle cx="493.3" cy="406.5" r="1.9" fill="#E9AC52"/>
<circle cx="478.6" cy="416.5" r="1.9" fill="#E9AC52"/>
<circle cx="493.3" cy="412.5" r="1.9" fill="#E9AC52"/>
<circle cx="478.6" cy="417.17" r="1.9" fill="#E9AC52"/>
<circle cx="493.3" cy="413.83" r="1.9" fill="#E9AC52"/>
<circle cx="478.6" cy="418.17" r="1.9" fill="#E9AC52"/>
<circle cx="493.3" cy="414.83" r="1.9" fill="#E9AC52"/>
<circle cx="478.6" cy="418.83" r="1.9" fill="#E9AC52"/>
<circle cx="493.3" cy="416.5" r="1.9" fill="#E9AC52"/>
<circle cx="478.6" cy="419.83" r="1.9" fill="#E9AC52"/>
<circle cx="493.3" cy="418.17" r="1.9" fill="#E9AC52"/>
<circle cx="478.6" cy="420.5" r="1.9" fill="#E9AC52"/>
<circle cx="493.3" cy="419.5" r="1.9" fill="#E9AC52"/>
<circle cx="478.6" cy="420.83" r="1.9" fill="#E9AC52"/>
<circle cx="493.3" cy="420.5" r="1.9" fill="#E9AC52"/>
<circle cx="478.6" cy="421.17" r="1.9" fill="#E9AC52"/>
<circle cx="493.3" cy="421.17" r="1.9" fill="#E9AC52"/>
<circle cx="478.6" cy="421.5" r="1.9" fill="#E9AC52"/>
<circle cx="493.3" cy="421.5" r="1.9" fill="#E9AC52"/>
<circle cx="478.6" cy="417.5" r="1.9" fill="#E9AC52"/>
<circle cx="493.3" cy="417.5" r="1.9" fill="#E9AC52"/>
<circle cx="478.6" cy="419.5" r="1.9" fill="#E9AC52"/>
<circle cx="493.3" cy="420.17" r="1.9" fill="#E9AC52"/>
<line x1="508" y1="347.83" x2="522.4" y2="413.83" stroke="#000" stroke-width="0.75" />
<line x1="508" y1="421.17" x2="522.4" y2="419.83" stroke="#000" stroke-width="0.75" />
<line x1="508" y1="421.33" x2="522.4" y2="420.83" stroke="#000" stroke-width="0.75" />
<line x1="508" y1="421.5" x2="522.4" y2="421.17" stroke="#000" stroke-width="0.75" />
<circle cx="508" cy="347.83" r="1.9" fill="#FF8CC6"/>
<circle cx="522.4" cy="413.83" r="1.9" fill="#FF8CC6"/>
<circle cx="508" cy="421.17" r="1.9" fill="#FF8CC6"/>
<circle cx="522.4" cy="419.83" r="1.9" fill="#FF8CC6"/>
<circle cx="508" cy="421.33" r="1.9" fill="#FF8CC6"/>
<circle cx="522.4" cy="420.83" r="1.9" fill="#FF8CC6"/>
<circle cx="508" cy="421.5" r="1.9" fill="#FF8CC6"/>
<circle cx="522.4" cy="421.17" r="1.9" fill="#FF8CC6"/>
<text class="b" x="37" y="467.1" font-size="9" text-anchor="start" fill="#111" >Macrophage – M1</text>
<line x1="35.9" y1="469.1" x2="188.9" y2="469.1" stroke="#111" stroke-width="0.95" />
<text class="b" x="93.9" y="479.8" font-size="9" text-anchor="middle" fill="#111" >All</text>
<text class="b" x="160.3" y="479.8" font-size="9" text-anchor="middle" fill="#111" >Paired</text>
<text class="b" transform="translate(41.1,539.6) rotate(-90)" font-size="9" text-anchor="middle" fill="#111">Cell abundance</text>
<line x1="61.6" y1="492.1" x2="61.6" y2="592.9" stroke="#444" stroke-width="0.9" />
<line x1="59.2" y1="592.5" x2="61.6" y2="592.5" stroke="#444" stroke-width="0.9" />
<text class="b" x="57.6" y="596.1" font-size="9" text-anchor="end" fill="#111" >0</text>
<line x1="59.2" y1="567.5" x2="61.6" y2="567.5" stroke="#444" stroke-width="0.9" />
<text class="b" x="57.6" y="571.1" font-size="9" text-anchor="end" fill="#111" >5</text>
<line x1="59.2" y1="542.5" x2="61.6" y2="542.5" stroke="#444" stroke-width="0.9" />
<text class="b" x="57.6" y="546.1" font-size="9" text-anchor="end" fill="#111" >10</text>
<line x1="59.2" y1="517.5" x2="61.6" y2="517.5" stroke="#444" stroke-width="0.9" />
<text class="b" x="57.6" y="521.1" font-size="9" text-anchor="end" fill="#111" >15</text>
<line x1="59.2" y1="492.5" x2="61.6" y2="492.5" stroke="#444" stroke-width="0.9" />
<text class="b" x="57.6" y="496.1" font-size="9" text-anchor="end" fill="#111" >20</text>
<line x1="60.4" y1="592.5" x2="124.8" y2="592.5" stroke="#888" stroke-width="1.3" />
<line x1="128.9" y1="592.5" x2="194.8" y2="592.5" stroke="#888" stroke-width="1.3" />
<line x1="71.3" y1="592.5" x2="71.3" y2="594.7" stroke="#888" stroke-width="0.8" />
<line x1="85.8" y1="592.5" x2="85.8" y2="594.7" stroke="#888" stroke-width="0.8" />
<line x1="100.3" y1="592.5" x2="100.3" y2="594.7" stroke="#888" stroke-width="0.8" />
<line x1="114.8" y1="592.5" x2="114.8" y2="594.7" stroke="#888" stroke-width="0.8" />
<line x1="139.8" y1="592.5" x2="139.8" y2="594.7" stroke="#888" stroke-width="0.8" />
<line x1="154.5" y1="592.5" x2="154.5" y2="594.7" stroke="#888" stroke-width="0.8" />
<line x1="169" y1="592.5" x2="169" y2="594.7" stroke="#888" stroke-width="0.8" />
<line x1="183.4" y1="592.5" x2="183.4" y2="594.7" stroke="#888" stroke-width="0.8" />
<line x1="127.2" y1="596.5" x2="127.2" y2="492" stroke="#111" stroke-width="1" stroke-dasharray="3.5,2.6"/>
<text class="b" transform="translate(73.4,603.7) rotate(-45)" font-size="9.6" text-anchor="end" fill="#111">BL</text>
<text class="b" transform="translate(87.9,603.7) rotate(-45)" font-size="9.6" text-anchor="end" fill="#111">C1D15</text>
<text class="b" transform="translate(102.4,603.7) rotate(-45)" font-size="9.6" text-anchor="end" fill="#111">BL</text>
<text class="b" transform="translate(116.9,603.7) rotate(-45)" font-size="9.6" text-anchor="end" fill="#111">C1D15</text>
<text class="b" transform="translate(141.9,603.7) rotate(-45)" font-size="9.6" text-anchor="end" fill="#111">T1</text>
<text class="b" transform="translate(156.6,603.7) rotate(-45)" font-size="9.6" text-anchor="end" fill="#111">C1D15</text>
<text class="b" transform="translate(171.1,603.7) rotate(-45)" font-size="9.6" text-anchor="end" fill="#111">T1</text>
<text class="b" transform="translate(185.5,603.7) rotate(-45)" font-size="9.6" text-anchor="end" fill="#111">C1D15</text>
<line x1="85.4" y1="490.2" x2="113.9" y2="490.2" stroke="#000" stroke-width="0.9" />
<text x="99.95" y="488.6" font-size="5.6" text-anchor="middle" fill="#111" >NS</text>
<line x1="71.7" y1="498.6" x2="99.8" y2="498.6" stroke="#000" stroke-width="0.9" />
<text x="86.55" y="497" font-size="5.6" text-anchor="middle" fill="#111"><tspan font-style="italic">P</tspan> = 0.0063</text>
<line x1="71.7" y1="509.1" x2="85.4" y2="509.1" stroke="#000" stroke-width="0.9" />
<text x="79.35" y="507.5" font-size="5.6" text-anchor="middle" fill="#111"><tspan font-style="italic">P</tspan> = 0.06</text>
<line x1="100.1" y1="509.1" x2="113.9" y2="509.1" stroke="#000" stroke-width="0.9" />
<text x="107.3" y="507.5" font-size="5.6" text-anchor="middle" fill="#111" >NS</text>
<line x1="141.1" y1="508.9" x2="155.5" y2="508.9" stroke="#000" stroke-width="0.9" />
<text x="149.1" y="507.3" font-size="5.6" text-anchor="middle" fill="#111"><tspan font-style="italic">P</tspan> = 0.0043</text>
<line x1="169" y1="508.9" x2="182.9" y2="508.9" stroke="#000" stroke-width="0.9" />
<text x="176.25" y="507.3" font-size="5.6" text-anchor="middle" fill="#111" >NS</text>
<circle cx="71.3" cy="583.5" r="1.9" fill="#E9AC52"/>
<circle cx="74.1" cy="585" r="1.9" fill="#E9AC52"/>
<circle cx="68.5" cy="586" r="1.9" fill="#E9AC52"/>
<circle cx="71.3" cy="587" r="1.9" fill="#E9AC52"/>
<circle cx="75.2" cy="587.5" r="1.9" fill="#E9AC52"/>
<circle cx="67.4" cy="588" r="1.9" fill="#E9AC52"/>
<circle cx="72.7" cy="588.5" r="1.9" fill="#E9AC52"/>
<circle cx="69.9" cy="589" r="1.9" fill="#E9AC52"/>
<circle cx="75.2" cy="589.5" r="1.9" fill="#E9AC52"/>
<circle cx="67.4" cy="590" r="1.9" fill="#E9AC52"/>
<circle cx="71.3" cy="590.5" r="1.9" fill="#E9AC52"/>
<circle cx="74.1" cy="591" r="1.9" fill="#E9AC52"/>
<circle cx="68.5" cy="591.5" r="1.9" fill="#E9AC52"/>
<circle cx="72.7" cy="592" r="1.9" fill="#E9AC52"/>
<circle cx="75.2" cy="592.25" r="1.9" fill="#E9AC52"/>
<line x1="66.5" y1="589.3" x2="76.1" y2="589.3" stroke="#111" stroke-width="0.9" />
<circle cx="85.8" cy="575.5" r="1.9" fill="#E9AC52"/>
<circle cx="88.6" cy="577.5" r="1.9" fill="#E9AC52"/>
<circle cx="85.8" cy="579.5" r="1.9" fill="#E9AC52"/>
<circle cx="88.6" cy="581" r="1.9" fill="#E9AC52"/>
<circle cx="83" cy="582" r="1.9" fill="#E9AC52"/>
<circle cx="85.8" cy="584" r="1.9" fill="#E9AC52"/>
<circle cx="88.6" cy="585" r="1.9" fill="#E9AC52"/>
<circle cx="83" cy="585.5" r="1.9" fill="#E9AC52"/>
<circle cx="85.8" cy="586.5" r="1.9" fill="#E9AC52"/>
<circle cx="89.7" cy="587.5" r="1.9" fill="#E9AC52"/>
<circle cx="81.9" cy="588" r="1.9" fill="#E9AC52"/>
<circle cx="87.2" cy="588.5" r="1.9" fill="#E9AC52"/>
<circle cx="84.4" cy="589.5" r="1.9" fill="#E9AC52"/>
<circle cx="89.7" cy="590" r="1.9" fill="#E9AC52"/>
<circle cx="81.9" cy="590.5" r="1.9" fill="#E9AC52"/>
<circle cx="87.2" cy="591" r="1.9" fill="#E9AC52"/>
<circle cx="84.4" cy="591.5" r="1.9" fill="#E9AC52"/>
<circle cx="89.7" cy="592" r="1.9" fill="#E9AC52"/>
<line x1="81" y1="587.2" x2="90.6" y2="587.2" stroke="#111" stroke-width="0.9" />
<circle cx="100.3" cy="514.5" r="1.9" fill="#FF8CC6"/>
<circle cx="100.3" cy="567" r="1.9" fill="#FF8CC6"/>
<circle cx="100.3" cy="576" r="1.9" fill="#FF8CC6"/>
<circle cx="100.3" cy="583.5" r="1.9" fill="#FF8CC6"/>
<circle cx="104.2" cy="583.75" r="1.9" fill="#FF8CC6"/>
<circle cx="100.3" cy="590" r="1.9" fill="#FF8CC6"/>
<circle cx="104.2" cy="590.25" r="1.9" fill="#FF8CC6"/>
<line x1="95.5" y1="572.5" x2="105.1" y2="572.5" stroke="#111" stroke-width="0.9" />
<circle cx="114.8" cy="572.5" r="1.9" fill="#FF8CC6"/>
<circle cx="117.6" cy="574.5" r="1.9" fill="#FF8CC6"/>
<circle cx="114.8" cy="576" r="1.9" fill="#FF8CC6"/>
<circle cx="114.8" cy="583" r="1.9" fill="#FF8CC6"/>
<circle cx="114.8" cy="588" r="1.9" fill="#FF8CC6"/>
<circle cx="117.6" cy="589.5" r="1.9" fill="#FF8CC6"/>
<circle cx="112" cy="590" r="1.9" fill="#FF8CC6"/>
<circle cx="114.8" cy="591" r="1.9" fill="#FF8CC6"/>
<line x1="110" y1="584.5" x2="119.6" y2="584.5" stroke="#111" stroke-width="0.9" />
<line x1="139.8" y1="583.5" x2="154.5" y2="575.5" stroke="#000" stroke-width="0.75" />
<line x1="139.8" y1="585" x2="154.5" y2="577.5" stroke="#000" stroke-width="0.75" />
<line x1="139.8" y1="586" x2="154.5" y2="579.5" stroke="#000" stroke-width="0.75" />
<line x1="139.8" y1="587" x2="154.5" y2="582" stroke="#000" stroke-width="0.75" />
<line x1="139.8" y1="588" x2="154.5" y2="584" stroke="#000" stroke-width="0.75" />
<line x1="139.8" y1="589" x2="154.5" y2="585.5" stroke="#000" stroke-width="0.75" />
<line x1="139.8" y1="590" x2="154.5" y2="586.5" stroke="#000" stroke-width="0.75" />
<line x1="139.8" y1="590.5" x2="154.5" y2="587.5" stroke="#000" stroke-width="0.75" />
<line x1="139.8" y1="591" x2="154.5" y2="588.5" stroke="#000" stroke-width="0.75" />
<line x1="139.8" y1="591.5" x2="154.5" y2="589.5" stroke="#000" stroke-width="0.75" />
<line x1="139.8" y1="592" x2="154.5" y2="590.5" stroke="#000" stroke-width="0.75" />
<line x1="139.8" y1="592.25" x2="154.5" y2="591.5" stroke="#000" stroke-width="0.75" />
<line x1="139.8" y1="589.5" x2="154.5" y2="592" stroke="#000" stroke-width="0.75" />
<line x1="139.8" y1="587.5" x2="154.5" y2="585" stroke="#000" stroke-width="0.75" />
<line x1="139.8" y1="588.5" x2="154.5" y2="581" stroke="#000" stroke-width="0.75" />
<circle cx="139.8" cy="583.5" r="1.9" fill="#E9AC52"/>
<circle cx="154.5" cy="575.5" r="1.9" fill="#E9AC52"/>
<circle cx="139.8" cy="585" r="1.9" fill="#E9AC52"/>
<circle cx="154.5" cy="577.5" r="1.9" fill="#E9AC52"/>
<circle cx="139.8" cy="586" r="1.9" fill="#E9AC52"/>
<circle cx="154.5" cy="579.5" r="1.9" fill="#E9AC52"/>
<circle cx="139.8" cy="587" r="1.9" fill="#E9AC52"/>
<circle cx="154.5" cy="582" r="1.9" fill="#E9AC52"/>
<circle cx="139.8" cy="588" r="1.9" fill="#E9AC52"/>
<circle cx="154.5" cy="584" r="1.9" fill="#E9AC52"/>
<circle cx="139.8" cy="589" r="1.9" fill="#E9AC52"/>
<circle cx="154.5" cy="585.5" r="1.9" fill="#E9AC52"/>
<circle cx="139.8" cy="590" r="1.9" fill="#E9AC52"/>
<circle cx="154.5" cy="586.5" r="1.9" fill="#E9AC52"/>
<circle cx="139.8" cy="590.5" r="1.9" fill="#E9AC52"/>
<circle cx="154.5" cy="587.5" r="1.9" fill="#E9AC52"/>
<circle cx="139.8" cy="591" r="1.9" fill="#E9AC52"/>
<circle cx="154.5" cy="588.5" r="1.9" fill="#E9AC52"/>
<circle cx="139.8" cy="591.5" r="1.9" fill="#E9AC52"/>
<circle cx="154.5" cy="589.5" r="1.9" fill="#E9AC52"/>
<circle cx="139.8" cy="592" r="1.9" fill="#E9AC52"/>
<circle cx="154.5" cy="590.5" r="1.9" fill="#E9AC52"/>
<circle cx="139.8" cy="592.25" r="1.9" fill="#E9AC52"/>
<circle cx="154.5" cy="591.5" r="1.9" fill="#E9AC52"/>
<circle cx="139.8" cy="589.5" r="1.9" fill="#E9AC52"/>
<circle cx="154.5" cy="592" r="1.9" fill="#E9AC52"/>
<circle cx="139.8" cy="587.5" r="1.9" fill="#E9AC52"/>
<circle cx="154.5" cy="585" r="1.9" fill="#E9AC52"/>
<circle cx="139.8" cy="588.5" r="1.9" fill="#E9AC52"/>
<circle cx="154.5" cy="581" r="1.9" fill="#E9AC52"/>
<line x1="169" y1="514.5" x2="183.4" y2="573.5" stroke="#000" stroke-width="0.75" />
<line x1="169" y1="583.5" x2="183.4" y2="574.5" stroke="#000" stroke-width="0.75" />
<line x1="169" y1="584" x2="183.4" y2="588.5" stroke="#000" stroke-width="0.75" />
<line x1="169" y1="588.75" x2="183.4" y2="590" stroke="#000" stroke-width="0.75" />
<line x1="169" y1="590" x2="183.4" y2="590.5" stroke="#000" stroke-width="0.75" />
<circle cx="169" cy="514.5" r="1.9" fill="#FF8CC6"/>
<circle cx="183.4" cy="573.5" r="1.9" fill="#FF8CC6"/>
<circle cx="169" cy="583.5" r="1.9" fill="#FF8CC6"/>
<circle cx="183.4" cy="574.5" r="1.9" fill="#FF8CC6"/>
<circle cx="169" cy="584" r="1.9" fill="#FF8CC6"/>
<circle cx="183.4" cy="588.5" r="1.9" fill="#FF8CC6"/>
<circle cx="169" cy="588.75" r="1.9" fill="#FF8CC6"/>
<circle cx="183.4" cy="590" r="1.9" fill="#FF8CC6"/>
<circle cx="169" cy="590" r="1.9" fill="#FF8CC6"/>
<circle cx="183.4" cy="590.5" r="1.9" fill="#FF8CC6"/>
<text class="b" x="205" y="467.1" font-size="9" text-anchor="start" fill="#111" >Macrophage – M2</text>
<line x1="203.9" y1="469.1" x2="356.9" y2="469.1" stroke="#111" stroke-width="0.95" />
<text class="b" x="261.9" y="479.8" font-size="9" text-anchor="middle" fill="#111" >All</text>
<text class="b" x="328.3" y="479.8" font-size="9" text-anchor="middle" fill="#111" >Paired</text>
<text class="b" transform="translate(208.4,539.6) rotate(-90)" font-size="9" text-anchor="middle" fill="#111">Cell abundance</text>
<line x1="229.6" y1="492.1" x2="229.6" y2="592.9" stroke="#444" stroke-width="0.9" />
<line x1="227.2" y1="592.5" x2="229.6" y2="592.5" stroke="#444" stroke-width="0.9" />
<text class="b" x="225.6" y="596.1" font-size="9" text-anchor="end" fill="#111" >0</text>
<line x1="227.2" y1="567.5" x2="229.6" y2="567.5" stroke="#444" stroke-width="0.9" />
<text class="b" x="225.6" y="571.1" font-size="9" text-anchor="end" fill="#111" >10</text>
<line x1="227.2" y1="542.5" x2="229.6" y2="542.5" stroke="#444" stroke-width="0.9" />
<text class="b" x="225.6" y="546.1" font-size="9" text-anchor="end" fill="#111" >20</text>
<line x1="227.2" y1="517.5" x2="229.6" y2="517.5" stroke="#444" stroke-width="0.9" />
<text class="b" x="225.6" y="521.1" font-size="9" text-anchor="end" fill="#111" >30</text>
<line x1="227.2" y1="492.5" x2="229.6" y2="492.5" stroke="#444" stroke-width="0.9" />
<text class="b" x="225.6" y="496.1" font-size="9" text-anchor="end" fill="#111" >40</text>
<line x1="228.4" y1="592.5" x2="292.8" y2="592.5" stroke="#888" stroke-width="1.3" />
<line x1="298" y1="592.5" x2="362.8" y2="592.5" stroke="#888" stroke-width="1.3" />
<line x1="239.3" y1="592.5" x2="239.3" y2="594.7" stroke="#888" stroke-width="0.8" />
<line x1="253.8" y1="592.5" x2="253.8" y2="594.7" stroke="#888" stroke-width="0.8" />
<line x1="268.3" y1="592.5" x2="268.3" y2="594.7" stroke="#888" stroke-width="0.8" />
<line x1="282.8" y1="592.5" x2="282.8" y2="594.7" stroke="#888" stroke-width="0.8" />
<line x1="308.5" y1="592.5" x2="308.5" y2="594.7" stroke="#888" stroke-width="0.8" />
<line x1="322.9" y1="592.5" x2="322.9" y2="594.7" stroke="#888" stroke-width="0.8" />
<line x1="337.8" y1="592.5" x2="337.8" y2="594.7" stroke="#888" stroke-width="0.8" />
<line x1="351.9" y1="592.5" x2="351.9" y2="594.7" stroke="#888" stroke-width="0.8" />
<line x1="296.3" y1="596.5" x2="296.3" y2="492" stroke="#111" stroke-width="1" stroke-dasharray="3.5,2.6"/>
<text class="b" transform="translate(241.4,603.7) rotate(-45)" font-size="9.6" text-anchor="end" fill="#111">BL</text>
<text class="b" transform="translate(255.9,603.7) rotate(-45)" font-size="9.6" text-anchor="end" fill="#111">C1D15</text>
<text class="b" transform="translate(270.4,603.7) rotate(-45)" font-size="9.6" text-anchor="end" fill="#111">BL</text>
<text class="b" transform="translate(284.9,603.7) rotate(-45)" font-size="9.6" text-anchor="end" fill="#111">C1D15</text>
<text class="b" transform="translate(310.6,603.7) rotate(-45)" font-size="9.6" text-anchor="end" fill="#111">T1</text>
<text class="b" transform="translate(325,603.7) rotate(-45)" font-size="9.6" text-anchor="end" fill="#111">C1D15</text>
<text class="b" transform="translate(339.9,603.7) rotate(-45)" font-size="9.6" text-anchor="end" fill="#111">T1</text>
<text class="b" transform="translate(354,603.7) rotate(-45)" font-size="9.6" text-anchor="end" fill="#111">C1D15</text>
<line x1="254.4" y1="490.3" x2="283" y2="490.3" stroke="#000" stroke-width="0.9" />
<text x="269" y="488.7" font-size="5.6" text-anchor="middle" fill="#111" >NS</text>
<line x1="240.3" y1="498.5" x2="268.7" y2="498.5" stroke="#000" stroke-width="0.9" />
<text x="254.8" y="496.9" font-size="5.6" text-anchor="middle" fill="#111" >NS</text>
<line x1="240.7" y1="509" x2="254.9" y2="509" stroke="#000" stroke-width="0.9" />
<text x="248.6" y="507.4" font-size="5.6" text-anchor="middle" fill="#111"><tspan font-style="italic">P</tspan> = 0.001</text>
<line x1="269.2" y1="509" x2="283.3" y2="509" stroke="#000" stroke-width="0.9" />
<text x="276.55" y="507.4" font-size="5.6" text-anchor="middle" fill="#111" >NS</text>
<line x1="309" y1="508.7" x2="323.4" y2="508.7" stroke="#000" stroke-width="0.9" />
<text x="317" y="507.1" font-size="5.6" text-anchor="middle" fill="#111"><tspan font-style="italic">P</tspan> &lt; 0.0001</text>
<line x1="337.3" y1="508.7" x2="351.9" y2="508.7" stroke="#000" stroke-width="0.9" />
<text x="344.9" y="507.1" font-size="5.6" text-anchor="middle" fill="#111" >NS</text>
<circle cx="239.3" cy="576" r="1.9" fill="#E9AC52"/>
<circle cx="239.3" cy="581.25" r="1.9" fill="#E9AC52"/>
<circle cx="242.1" cy="582.5" r="1.9" fill="#E9AC52"/>
<circle cx="236.5" cy="583.5" r="1.9" fill="#E9AC52"/>
<circle cx="239.3" cy="584.5" r="1.9" fill="#E9AC52"/>
<circle cx="243.2" cy="585" r="1.9" fill="#E9AC52"/>
<circle cx="235.4" cy="585.5" r="1.9" fill="#E9AC52"/>
<circle cx="240.7" cy="586.5" r="1.9" fill="#E9AC52"/>
<circle cx="237.9" cy="587" r="1.9" fill="#E9AC52"/>
<circle cx="243.2" cy="587.5" r="1.9" fill="#E9AC52"/>
<circle cx="235.4" cy="588.5" r="1.9" fill="#E9AC52"/>
<circle cx="240.7" cy="589.5" r="1.9" fill="#E9AC52"/>
<circle cx="237.9" cy="590" r="1.9" fill="#E9AC52"/>
<circle cx="243.2" cy="590.5" r="1.9" fill="#E9AC52"/>
<circle cx="235.4" cy="591.5" r="1.9" fill="#E9AC52"/>
<line x1="234.5" y1="586.25" x2="244.1" y2="586.25" stroke="#111" stroke-width="0.9" />
<circle cx="253.8" cy="544.5" r="1.9" fill="#E9AC52"/>
<circle cx="253.8" cy="561.75" r="1.9" fill="#E9AC52"/>
<circle cx="253.8" cy="568.5" r="1.9" fill="#E9AC52"/>
<circle cx="253.8" cy="573" r="1.9" fill="#E9AC52"/>
<circle cx="257.7" cy="573.75" r="1.9" fill="#E9AC52"/>
<circle cx="251" cy="575" r="1.9" fill="#E9AC52"/>
<circle cx="255.2" cy="575.5" r="1.9" fill="#E9AC52"/>
<circle cx="257.7" cy="576.25" r="1.9" fill="#E9AC52"/>
<circle cx="252.4" cy="577.5" r="1.9" fill="#E9AC52"/>
<circle cx="255.2" cy="578.75" r="1.9" fill="#E9AC52"/>
<circle cx="249.9" cy="580" r="1.9" fill="#E9AC52"/>
<circle cx="257.7" cy="581.25" r="1.9" fill="#E9AC52"/>
<circle cx="253.8" cy="582.5" r="1.9" fill="#E9AC52"/>
<circle cx="251" cy="583.75" r="1.9" fill="#E9AC52"/>
<circle cx="256.6" cy="585" r="1.9" fill="#E9AC52"/>
<circle cx="253.8" cy="586.25" r="1.9" fill="#E9AC52"/>
<circle cx="251" cy="587.5" r="1.9" fill="#E9AC52"/>
<circle cx="253.8" cy="590" r="1.9" fill="#E9AC52"/>
<line x1="249" y1="577.25" x2="258.6" y2="577.25" stroke="#111" stroke-width="0.9" />
<circle cx="268.3" cy="512.5" r="1.9" fill="#FF8CC6"/>
<circle cx="268.3" cy="565" r="1.9" fill="#FF8CC6"/>
<circle cx="268.3" cy="578.5" r="1.9" fill="#FF8CC6"/>
<circle cx="268.3" cy="584.75" r="1.9" fill="#FF8CC6"/>
<circle cx="272.2" cy="584.75" r="1.9" fill="#FF8CC6"/>
<circle cx="268.3" cy="589" r="1.9" fill="#FF8CC6"/>
<circle cx="271.1" cy="591" r="1.9" fill="#FF8CC6"/>
<line x1="263.5" y1="572.5" x2="273.1" y2="572.5" stroke="#111" stroke-width="0.9" />
<circle cx="282.8" cy="541.5" r="1.9" fill="#FF8CC6"/>
<circle cx="282.8" cy="571" r="1.9" fill="#FF8CC6"/>
<circle cx="282.8" cy="581.25" r="1.9" fill="#FF8CC6"/>
<circle cx="282.8" cy="585.75" r="1.9" fill="#FF8CC6"/>
<circle cx="285.6" cy="587.75" r="1.9" fill="#FF8CC6"/>
<circle cx="282.8" cy="589.25" r="1.9" fill="#FF8CC6"/>
<circle cx="278.9" cy="589.25" r="1.9" fill="#FF8CC6"/>
<circle cx="286.7" cy="590" r="1.9" fill="#FF8CC6"/>
<line x1="278" y1="579.5" x2="287.6" y2="579.5" stroke="#111" stroke-width="0.9" />
<line x1="308.5" y1="576.25" x2="322.9" y2="561.75" stroke="#000" stroke-width="0.75" />
<line x1="308.5" y1="581.25" x2="322.9" y2="544.5" stroke="#000" stroke-width="0.75" />
<line x1="308.5" y1="582.5" x2="322.9" y2="568.5" stroke="#000" stroke-width="0.75" />
<line x1="308.5" y1="583.5" x2="322.9" y2="573" stroke="#000" stroke-width="0.75" />
<line x1="308.5" y1="584.5" x2="322.9" y2="573.75" stroke="#000" stroke-width="0.75" />
<line x1="308.5" y1="585.5" x2="322.9" y2="575" stroke="#000" stroke-width="0.75" />
<line x1="308.5" y1="586.5" x2="322.9" y2="576.25" stroke="#000" stroke-width="0.75" />
<line x1="308.5" y1="587.5" x2="322.9" y2="577.5" stroke="#000" stroke-width="0.75" />
<line x1="308.5" y1="588.5" x2="322.9" y2="580" stroke="#000" stroke-width="0.75" />
<line x1="308.5" y1="589.5" x2="322.9" y2="582.5" stroke="#000" stroke-width="0.75" />
<line x1="308.5" y1="590.5" x2="322.9" y2="585" stroke="#000" stroke-width="0.75" />
<line x1="308.5" y1="591.5" x2="322.9" y2="587.5" stroke="#000" stroke-width="0.75" />
<line x1="308.5" y1="585" x2="322.9" y2="590" stroke="#000" stroke-width="0.75" />
<line x1="308.5" y1="587" x2="322.9" y2="578.75" stroke="#000" stroke-width="0.75" />
<circle cx="308.5" cy="576.25" r="1.9" fill="#E9AC52"/>
<circle cx="322.9" cy="561.75" r="1.9" fill="#E9AC52"/>
<circle cx="308.5" cy="581.25" r="1.9" fill="#E9AC52"/>
<circle cx="322.9" cy="544.5" r="1.9" fill="#E9AC52"/>
<circle cx="308.5" cy="582.5" r="1.9" fill="#E9AC52"/>
<circle cx="322.9" cy="568.5" r="1.9" fill="#E9AC52"/>
<circle cx="308.5" cy="583.5" r="1.9" fill="#E9AC52"/>
<circle cx="322.9" cy="573" r="1.9" fill="#E9AC52"/>
<circle cx="308.5" cy="584.5" r="1.9" fill="#E9AC52"/>
<circle cx="322.9" cy="573.75" r="1.9" fill="#E9AC52"/>
<circle cx="308.5" cy="585.5" r="1.9" fill="#E9AC52"/>
<circle cx="322.9" cy="575" r="1.9" fill="#E9AC52"/>
<circle cx="308.5" cy="586.5" r="1.9" fill="#E9AC52"/>
<circle cx="322.9" cy="576.25" r="1.9" fill="#E9AC52"/>
<circle cx="308.5" cy="587.5" r="1.9" fill="#E9AC52"/>
<circle cx="322.9" cy="577.5" r="1.9" fill="#E9AC52"/>
<circle cx="308.5" cy="588.5" r="1.9" fill="#E9AC52"/>
<circle cx="322.9" cy="580" r="1.9" fill="#E9AC52"/>
<circle cx="308.5" cy="589.5" r="1.9" fill="#E9AC52"/>
<circle cx="322.9" cy="582.5" r="1.9" fill="#E9AC52"/>
<circle cx="308.5" cy="590.5" r="1.9" fill="#E9AC52"/>
<circle cx="322.9" cy="585" r="1.9" fill="#E9AC52"/>
<circle cx="308.5" cy="591.5" r="1.9" fill="#E9AC52"/>
<circle cx="322.9" cy="587.5" r="1.9" fill="#E9AC52"/>
<circle cx="308.5" cy="585" r="1.9" fill="#E9AC52"/>
<circle cx="322.9" cy="590" r="1.9" fill="#E9AC52"/>
<circle cx="308.5" cy="587" r="1.9" fill="#E9AC52"/>
<circle cx="322.9" cy="578.75" r="1.9" fill="#E9AC52"/>
<line x1="337.8" y1="512.5" x2="351.9" y2="571" stroke="#000" stroke-width="0.75" />
<line x1="337.8" y1="584.75" x2="351.9" y2="587.5" stroke="#000" stroke-width="0.75" />
<line x1="337.8" y1="589" x2="351.9" y2="585.75" stroke="#000" stroke-width="0.75" />
<line x1="337.8" y1="591" x2="351.9" y2="589.25" stroke="#000" stroke-width="0.75" />
<circle cx="337.8" cy="512.5" r="1.9" fill="#FF8CC6"/>
<circle cx="351.9" cy="571" r="1.9" fill="#FF8CC6"/>
<circle cx="337.8" cy="584.75" r="1.9" fill="#FF8CC6"/>
<circle cx="351.9" cy="587.5" r="1.9" fill="#FF8CC6"/>
<circle cx="337.8" cy="589" r="1.9" fill="#FF8CC6"/>
<circle cx="351.9" cy="585.75" r="1.9" fill="#FF8CC6"/>
<circle cx="337.8" cy="591" r="1.9" fill="#FF8CC6"/>
<circle cx="351.9" cy="589.25" r="1.9" fill="#FF8CC6"/>
<text class="b" x="376" y="467.1" font-size="9" text-anchor="start" fill="#111" >Monocyte</text>
<line x1="376.5" y1="469.1" x2="529.5" y2="469.1" stroke="#111" stroke-width="0.95" />
<text class="b" x="434.5" y="479.8" font-size="9" text-anchor="middle" fill="#111" >All</text>
<text class="b" x="500.9" y="479.8" font-size="9" text-anchor="middle" fill="#111" >Paired</text>
<text class="b" transform="translate(381,539.6) rotate(-90)" font-size="9" text-anchor="middle" fill="#111">Cell abundance</text>
<line x1="402.2" y1="492.1" x2="402.2" y2="592.9" stroke="#444" stroke-width="0.9" />
<line x1="399.8" y1="592.5" x2="402.2" y2="592.5" stroke="#444" stroke-width="0.9" />
<text class="b" x="398.2" y="596.1" font-size="9" text-anchor="end" fill="#111" >0</text>
<line x1="399.8" y1="572.5" x2="402.2" y2="572.5" stroke="#444" stroke-width="0.9" />
<text class="b" x="398.2" y="576.1" font-size="9" text-anchor="end" fill="#111" >1</text>
<line x1="399.8" y1="552.5" x2="402.2" y2="552.5" stroke="#444" stroke-width="0.9" />
<text class="b" x="398.2" y="556.1" font-size="9" text-anchor="end" fill="#111" >2</text>
<line x1="399.8" y1="532.5" x2="402.2" y2="532.5" stroke="#444" stroke-width="0.9" />
<text class="b" x="398.2" y="536.1" font-size="9" text-anchor="end" fill="#111" >3</text>
<line x1="399.8" y1="512.5" x2="402.2" y2="512.5" stroke="#444" stroke-width="0.9" />
<text class="b" x="398.2" y="516.1" font-size="9" text-anchor="end" fill="#111" >4</text>
<line x1="399.8" y1="492.5" x2="402.2" y2="492.5" stroke="#444" stroke-width="0.9" />
<text class="b" x="398.2" y="496.1" font-size="9" text-anchor="end" fill="#111" >5</text>
<line x1="401" y1="592.5" x2="465.4" y2="592.5" stroke="#888" stroke-width="1.3" />
<line x1="468.2" y1="592.5" x2="533.2" y2="592.5" stroke="#888" stroke-width="1.3" />
<line x1="411.5" y1="592.5" x2="411.5" y2="594.7" stroke="#888" stroke-width="0.8" />
<line x1="426.3" y1="592.5" x2="426.3" y2="594.7" stroke="#888" stroke-width="0.8" />
<line x1="441.5" y1="592.5" x2="441.5" y2="594.7" stroke="#888" stroke-width="0.8" />
<line x1="456.1" y1="592.5" x2="456.1" y2="594.7" stroke="#888" stroke-width="0.8" />
<line x1="478.1" y1="592.5" x2="478.1" y2="594.7" stroke="#888" stroke-width="0.8" />
<line x1="492.5" y1="592.5" x2="492.5" y2="594.7" stroke="#888" stroke-width="0.8" />
<line x1="507.4" y1="592.5" x2="507.4" y2="594.7" stroke="#888" stroke-width="0.8" />
<line x1="521.8" y1="592.5" x2="521.8" y2="594.7" stroke="#888" stroke-width="0.8" />
<line x1="466.5" y1="596.5" x2="466.5" y2="492" stroke="#111" stroke-width="1" stroke-dasharray="3.5,2.6"/>
<text class="b" transform="translate(413.6,603.7) rotate(-45)" font-size="9.6" text-anchor="end" fill="#111">BL</text>
<text class="b" transform="translate(428.4,603.7) rotate(-45)" font-size="9.6" text-anchor="end" fill="#111">C1D15</text>
<text class="b" transform="translate(443.6,603.7) rotate(-45)" font-size="9.6" text-anchor="end" fill="#111">BL</text>
<text class="b" transform="translate(458.2,603.7) rotate(-45)" font-size="9.6" text-anchor="end" fill="#111">C1D15</text>
<text class="b" transform="translate(480.2,603.7) rotate(-45)" font-size="9.6" text-anchor="end" fill="#111">T1</text>
<text class="b" transform="translate(494.6,603.7) rotate(-45)" font-size="9.6" text-anchor="end" fill="#111">C1D15</text>
<text class="b" transform="translate(509.5,603.7) rotate(-45)" font-size="9.6" text-anchor="end" fill="#111">T1</text>
<text class="b" transform="translate(523.9,603.7) rotate(-45)" font-size="9.6" text-anchor="end" fill="#111">C1D15</text>
<line x1="425.7" y1="490.6" x2="452.8" y2="490.6" stroke="#000" stroke-width="0.9" />
<text x="440.05" y="489" font-size="5.6" text-anchor="middle" fill="#111"><tspan font-style="italic">P</tspan> = 0.06</text>
<line x1="409.2" y1="498.6" x2="436.7" y2="498.6" stroke="#000" stroke-width="0.9" />
<text x="423.75" y="497" font-size="5.6" text-anchor="middle" fill="#111"><tspan font-style="italic">P</tspan> = 0.06</text>
<line x1="409.2" y1="508.9" x2="423.5" y2="508.9" stroke="#000" stroke-width="0.9" />
<text x="417.15" y="507.3" font-size="5.6" text-anchor="middle" fill="#111"><tspan font-style="italic">P</tspan> = 0.08</text>
<line x1="439.1" y1="508.9" x2="453.5" y2="508.9" stroke="#000" stroke-width="0.9" />
<text x="447.1" y="507.3" font-size="5.6" text-anchor="middle" fill="#111"><tspan font-style="italic">P</tspan> = 0.08</text>
<line x1="479.6" y1="508.9" x2="493.5" y2="508.9" stroke="#000" stroke-width="0.9" />
<text x="487.35" y="507.3" font-size="5.6" text-anchor="middle" fill="#111"><tspan font-style="italic">P</tspan> = 0.0215</text>
<line x1="504.8" y1="508.9" x2="518.8" y2="508.9" stroke="#000" stroke-width="0.9" />
<text x="512.1" y="507.3" font-size="5.6" text-anchor="middle" fill="#111" >NS</text>
<circle cx="411.5" cy="578.5" r="1.9" fill="#E9AC52"/>
<circle cx="414.3" cy="580.5" r="1.9" fill="#E9AC52"/>
<circle cx="411.5" cy="582.5" r="1.9" fill="#E9AC52"/>
<circle cx="414.3" cy="584.1" r="1.9" fill="#E9AC52"/>
<circle cx="411.5" cy="585.5" r="1.9" fill="#E9AC52"/>
<circle cx="408.7" cy="586.5" r="1.9" fill="#E9AC52"/>
<circle cx="414.3" cy="587.5" r="1.9" fill="#E9AC52"/>
<circle cx="411.5" cy="588.5" r="1.9" fill="#E9AC52"/>
<circle cx="408.7" cy="589.5" r="1.9" fill="#E9AC52"/>
<circle cx="414.3" cy="590.5" r="1.9" fill="#E9AC52"/>
<circle cx="411.5" cy="590.9" r="1.9" fill="#E9AC52"/>
<circle cx="407.6" cy="591.5" r="1.9" fill="#E9AC52"/>
<circle cx="415.4" cy="592.1" r="1.9" fill="#E9AC52"/>
<circle cx="412.9" cy="592.5" r="1.9" fill="#E9AC52"/>
<line x1="406.7" y1="588.1" x2="416.3" y2="588.1" stroke="#111" stroke-width="0.9" />
<circle cx="426.3" cy="531.5" r="1.9" fill="#E9AC52"/>
<circle cx="426.3" cy="536.5" r="1.9" fill="#E9AC52"/>
<circle cx="426.3" cy="549.3" r="1.9" fill="#E9AC52"/>
<circle cx="426.3" cy="569.5" r="1.9" fill="#E9AC52"/>
<circle cx="426.3" cy="577.5" r="1.9" fill="#E9AC52"/>
<circle cx="426.3" cy="580.5" r="1.9" fill="#E9AC52"/>
<circle cx="429.1" cy="582.5" r="1.9" fill="#E9AC52"/>
<circle cx="426.3" cy="583.5" r="1.9" fill="#E9AC52"/>
<circle cx="423.5" cy="584.5" r="1.9" fill="#E9AC52"/>
<circle cx="429.1" cy="585.5" r="1.9" fill="#E9AC52"/>
<circle cx="426.3" cy="586.5" r="1.9" fill="#E9AC52"/>
<circle cx="423.5" cy="587.5" r="1.9" fill="#E9AC52"/>
<circle cx="429.1" cy="588.5" r="1.9" fill="#E9AC52"/>
<circle cx="426.3" cy="589.5" r="1.9" fill="#E9AC52"/>
<circle cx="423.5" cy="590.5" r="1.9" fill="#E9AC52"/>
<circle cx="429.1" cy="591.5" r="1.9" fill="#E9AC52"/>
<circle cx="426.3" cy="592.5" r="1.9" fill="#E9AC52"/>
<line x1="421.5" y1="576.9" x2="431.1" y2="576.9" stroke="#111" stroke-width="0.9" />
<circle cx="441.5" cy="569.3" r="1.9" fill="#FF8CC6"/>
<circle cx="441.5" cy="576.3" r="1.9" fill="#FF8CC6"/>
<circle cx="441.5" cy="579.5" r="1.9" fill="#FF8CC6"/>
<circle cx="441.5" cy="583.7" r="1.9" fill="#FF8CC6"/>
<circle cx="445.4" cy="583.7" r="1.9" fill="#FF8CC6"/>
<circle cx="437.6" cy="583.7" r="1.9" fill="#FF8CC6"/>
<circle cx="442.9" cy="586.5" r="1.9" fill="#FF8CC6"/>
<circle cx="441.5" cy="592.5" r="1.9" fill="#FF8CC6"/>
<line x1="436.7" y1="582.1" x2="446.3" y2="582.1" stroke="#111" stroke-width="0.9" />
<circle cx="456.1" cy="582.5" r="1.9" fill="#FF8CC6"/>
<circle cx="458.9" cy="583.5" r="1.9" fill="#FF8CC6"/>
<circle cx="456.1" cy="586.5" r="1.9" fill="#FF8CC6"/>
<circle cx="458.9" cy="588.5" r="1.9" fill="#FF8CC6"/>
<circle cx="456.1" cy="589.5" r="1.9" fill="#FF8CC6"/>
<circle cx="453.3" cy="590.5" r="1.9" fill="#FF8CC6"/>
<circle cx="458.9" cy="591.5" r="1.9" fill="#FF8CC6"/>
<circle cx="456.1" cy="592.1" r="1.9" fill="#FF8CC6"/>
<circle cx="452.2" cy="592.5" r="1.9" fill="#FF8CC6"/>
<line x1="451.3" y1="589.1" x2="460.9" y2="589.1" stroke="#111" stroke-width="0.9" />
<line x1="478.1" y1="578.5" x2="492.5" y2="531.5" stroke="#000" stroke-width="0.75" />
<line x1="478.1" y1="580.5" x2="492.5" y2="536.5" stroke="#000" stroke-width="0.75" />
<line x1="478.1" y1="582.5" x2="492.5" y2="548.9" stroke="#000" stroke-width="0.75" />
<line x1="478.1" y1="584.1" x2="492.5" y2="569.5" stroke="#000" stroke-width="0.75" />
<line x1="478.1" y1="585.5" x2="492.5" y2="576.5" stroke="#000" stroke-width="0.75" />
<line x1="478.1" y1="586.5" x2="492.5" y2="579.9" stroke="#000" stroke-width="0.75" />
<line x1="478.1" y1="587.5" x2="492.5" y2="584.5" stroke="#000" stroke-width="0.75" />
<line x1="478.1" y1="588.5" x2="492.5" y2="586.5" stroke="#000" stroke-width="0.75" />
<line x1="478.1" y1="589.5" x2="492.5" y2="588.5" stroke="#000" stroke-width="0.75" />
<line x1="478.1" y1="590.5" x2="492.5" y2="590.5" stroke="#000" stroke-width="0.75" />
<line x1="478.1" y1="591.5" x2="492.5" y2="591.5" stroke="#000" stroke-width="0.75" />
<line x1="478.1" y1="592.5" x2="492.5" y2="592.5" stroke="#000" stroke-width="0.75" />
<line x1="478.1" y1="592.1" x2="492.5" y2="585.5" stroke="#000" stroke-width="0.75" />
<circle cx="478.1" cy="578.5" r="1.9" fill="#E9AC52"/>
<circle cx="492.5" cy="531.5" r="1.9" fill="#E9AC52"/>
<circle cx="478.1" cy="580.5" r="1.9" fill="#E9AC52"/>
<circle cx="492.5" cy="536.5" r="1.9" fill="#E9AC52"/>
<circle cx="478.1" cy="582.5" r="1.9" fill="#E9AC52"/>
<circle cx="492.5" cy="548.9" r="1.9" fill="#E9AC52"/>
<circle cx="478.1" cy="584.1" r="1.9" fill="#E9AC52"/>
<circle cx="492.5" cy="569.5" r="1.9" fill="#E9AC52"/>
<circle cx="478.1" cy="585.5" r="1.9" fill="#E9AC52"/>
<circle cx="492.5" cy="576.5" r="1.9" fill="#E9AC52"/>
<circle cx="478.1" cy="586.5" r="1.9" fill="#E9AC52"/>
<circle cx="492.5" cy="579.9" r="1.9" fill="#E9AC52"/>
<circle cx="478.1" cy="587.5" r="1.9" fill="#E9AC52"/>
<circle cx="492.5" cy="584.5" r="1.9" fill="#E9AC52"/>
<circle cx="478.1" cy="588.5" r="1.9" fill="#E9AC52"/>
<circle cx="492.5" cy="586.5" r="1.9" fill="#E9AC52"/>
<circle cx="478.1" cy="589.5" r="1.9" fill="#E9AC52"/>
<circle cx="492.5" cy="588.5" r="1.9" fill="#E9AC52"/>
<circle cx="478.1" cy="590.5" r="1.9" fill="#E9AC52"/>
<circle cx="492.5" cy="590.5" r="1.9" fill="#E9AC52"/>
<circle cx="478.1" cy="591.5" r="1.9" fill="#E9AC52"/>
<circle cx="492.5" cy="591.5" r="1.9" fill="#E9AC52"/>
<circle cx="478.1" cy="592.5" r="1.9" fill="#E9AC52"/>
<circle cx="492.5" cy="592.5" r="1.9" fill="#E9AC52"/>
<circle cx="478.1" cy="592.1" r="1.9" fill="#E9AC52"/>
<circle cx="492.5" cy="585.5" r="1.9" fill="#E9AC52"/>
<line x1="507.4" y1="575.5" x2="521.8" y2="590.5" stroke="#000" stroke-width="0.75" />
<line x1="507.4" y1="582.5" x2="521.8" y2="583.5" stroke="#000" stroke-width="0.75" />
<line x1="507.4" y1="584.5" x2="521.8" y2="586.5" stroke="#000" stroke-width="0.75" />
<line x1="507.4" y1="586.5" x2="521.8" y2="588.5" stroke="#000" stroke-width="0.75" />
<line x1="507.4" y1="588.5" x2="521.8" y2="584.5" stroke="#000" stroke-width="0.75" />
<line x1="507.4" y1="590.5" x2="521.8" y2="591.5" stroke="#000" stroke-width="0.75" />
<circle cx="507.4" cy="575.5" r="1.9" fill="#FF8CC6"/>
<circle cx="521.8" cy="590.5" r="1.9" fill="#FF8CC6"/>
<circle cx="507.4" cy="582.5" r="1.9" fill="#FF8CC6"/>
<circle cx="521.8" cy="583.5" r="1.9" fill="#FF8CC6"/>
<circle cx="507.4" cy="584.5" r="1.9" fill="#FF8CC6"/>
<circle cx="521.8" cy="586.5" r="1.9" fill="#FF8CC6"/>
<circle cx="507.4" cy="586.5" r="1.9" fill="#FF8CC6"/>
<circle cx="521.8" cy="588.5" r="1.9" fill="#FF8CC6"/>
<circle cx="507.4" cy="588.5" r="1.9" fill="#FF8CC6"/>
<circle cx="521.8" cy="584.5" r="1.9" fill="#FF8CC6"/>
<circle cx="507.4" cy="590.5" r="1.9" fill="#FF8CC6"/>
<circle cx="521.8" cy="591.5" r="1.9" fill="#FF8CC6"/>
<circle cx="542.8" cy="305.4" r="2.6" fill="#F8AD4C"/>
<circle cx="542.8" cy="316.6" r="2.6" fill="#FF80C3"/>
<text class="b" x="548.6" y="309" font-size="9.2" text-anchor="start" fill="#111" >Sensitive</text>
<text class="b" x="548.6" y="320.4" font-size="9.2" text-anchor="start" fill="#111" >Resistant</text>
<text x="0" y="660.2" font-size="18" text-anchor="start" fill="#000" font-weight="bold">C</text>
<text class="b" x="144.4" y="670.5" font-size="9.05" text-anchor="middle" fill="#111" >18 Gene TME signature</text>
<line x1="83.25" y1="674.4" x2="83.25" y2="753" stroke="#e2e2e2" stroke-width="0.6" stroke-dasharray="1,1"/>
<line x1="104.9" y1="674.4" x2="104.9" y2="753" stroke="#e2e2e2" stroke-width="0.6" stroke-dasharray="1,1"/>
<line x1="126.55" y1="674.4" x2="126.55" y2="753" stroke="#e2e2e2" stroke-width="0.6" stroke-dasharray="1,1"/>
<line x1="148.2" y1="674.4" x2="148.2" y2="753" stroke="#e2e2e2" stroke-width="0.6" stroke-dasharray="1,1"/>
<line x1="169.85" y1="674.4" x2="169.85" y2="753" stroke="#e2e2e2" stroke-width="0.6" stroke-dasharray="1,1"/>
<line x1="191.5" y1="674.4" x2="191.5" y2="753" stroke="#e2e2e2" stroke-width="0.6" stroke-dasharray="1,1"/>
<line x1="213.15" y1="674.4" x2="213.15" y2="753" stroke="#e2e2e2" stroke-width="0.6" stroke-dasharray="1,1"/>
<line x1="61.6" y1="738.7" x2="234.2" y2="738.7" stroke="#e2e2e2" stroke-width="0.6" stroke-dasharray="1,1"/>
<line x1="61.6" y1="728.7" x2="234.2" y2="728.7" stroke="#e2e2e2" stroke-width="0.6" stroke-dasharray="1,1"/>
<line x1="61.6" y1="718.7" x2="234.2" y2="718.7" stroke="#e2e2e2" stroke-width="0.6" stroke-dasharray="1,1"/>
<line x1="61.6" y1="708.7" x2="234.2" y2="708.7" stroke="#e2e2e2" stroke-width="0.6" stroke-dasharray="1,1"/>
<line x1="61.6" y1="698.7" x2="234.2" y2="698.7" stroke="#e2e2e2" stroke-width="0.6" stroke-dasharray="1,1"/>
<line x1="61.6" y1="688.7" x2="234.2" y2="688.7" stroke="#e2e2e2" stroke-width="0.6" stroke-dasharray="1,1"/>
<line x1="61.6" y1="678.7" x2="234.2" y2="678.7" stroke="#e2e2e2" stroke-width="0.6" stroke-dasharray="1,1"/>
<line x1="61.6" y1="748.7" x2="234.2" y2="748.7" stroke="#aaa" stroke-width="0.7" />
<line x1="61.6" y1="753.3" x2="234.2" y2="753.3" stroke="#bbb" stroke-width="0.6" />
<text x="58.6" y="750.6" font-size="5.4" text-anchor="end" fill="#222" >0.0</text>
<line x1="60.1" y1="748.7" x2="61.6" y2="748.7" stroke="#444" stroke-width="0.5" />
<text x="58.6" y="740.6" font-size="5.4" text-anchor="end" fill="#222" >0.1</text>
<line x1="60.1" y1="738.7" x2="61.6" y2="738.7" stroke="#444" stroke-width="0.5" />
<text x="58.6" y="730.6" font-size="5.4" text-anchor="end" fill="#222" >0.2</text>
<line x1="60.1" y1="728.7" x2="61.6" y2="728.7" stroke="#444" stroke-width="0.5" />
<text x="58.6" y="720.6" font-size="5.4" text-anchor="end" fill="#222" >0.3</text>
<line x1="60.1" y1="718.7" x2="61.6" y2="718.7" stroke="#444" stroke-width="0.5" />
<text x="58.6" y="710.6" font-size="5.4" text-anchor="end" fill="#222" >0.4</text>
<line x1="60.1" y1="708.7" x2="61.6" y2="708.7" stroke="#444" stroke-width="0.5" />
<text x="58.6" y="700.6" font-size="5.4" text-anchor="end" fill="#222" >0.5</text>
<line x1="60.1" y1="698.7" x2="61.6" y2="698.7" stroke="#444" stroke-width="0.5" />
<text x="58.6" y="690.6" font-size="5.4" text-anchor="end" fill="#222" >0.6</text>
<line x1="60.1" y1="688.7" x2="61.6" y2="688.7" stroke="#444" stroke-width="0.5" />
<text x="58.6" y="680.6" font-size="5.4" text-anchor="end" fill="#222" >0.7</text>
<line x1="60.1" y1="678.7" x2="61.6" y2="678.7" stroke="#444" stroke-width="0.5" />
<text class="b" transform="translate(41.2,712.6) rotate(-90)" font-size="9" text-anchor="middle" fill="#111">Enrichment score</text>
<rect x="62" y="780.6" width="10.5" height="7" fill="#E8383C" />
<rect x="71.8" y="780.6" width="12.6" height="7" fill="#EF4747" />
<rect x="83.7" y="780.6" width="9" height="7" fill="#F04B4B" />
<rect x="92" y="780.6" width="9.4" height="7" fill="#F24F52" />
<rect x="100.7" y="780.6" width="10" height="7" fill="#F5636B" />
<rect x="110" y="780.6" width="10.5" height="7" fill="#F88282" />
<rect x="119.8" y="780.6" width="32.8" height="7" fill="#FAB6DF" />
<rect x="151.9" y="780.6" width="24.3" height="7" fill="#D8D8FA" />
<rect x="175.5" y="780.6" width="8.8" height="7" fill="#C6C0F7" />
<rect x="183.6" y="780.6" width="9.9" height="7" fill="#8080F8" />
<rect x="192.8" y="780.6" width="28.9" height="7" fill="#6A5BEA" />
<rect x="221" y="780.6" width="8.6" height="7" fill="#2B10D2" />
<rect x="228.9" y="780.6" width="1" height="7" fill="#4A12A0" />
<line x1="63.5" y1="754.6" x2="63.5" y2="780.6" stroke="#333" stroke-width="0.8" />
<line x1="65.2" y1="754.6" x2="65.2" y2="780.6" stroke="#333" stroke-width="0.8" />
<line x1="68.5" y1="754.6" x2="68.5" y2="780.6" stroke="#444" stroke-width="0.8" />
<line x1="72.6" y1="754.6" x2="72.6" y2="780.6" stroke="#555" stroke-width="0.8" />
<line x1="73.6" y1="754.6" x2="73.6" y2="780.6" stroke="#555" stroke-width="0.8" />
<line x1="84.4" y1="754.6" x2="84.4" y2="780.6" stroke="#555" stroke-width="0.9" />
<line x1="85.2" y1="754.6" x2="85.2" y2="780.6" stroke="#444" stroke-width="0.9" />
<line x1="86.2" y1="754.6" x2="86.2" y2="780.6" stroke="#555" stroke-width="0.8" />
<line x1="90.2" y1="754.6" x2="90.2" y2="780.6" stroke="#555" stroke-width="0.8" />
<line x1="93.5" y1="754.6" x2="93.5" y2="780.6" stroke="#333" stroke-width="0.8" />
<line x1="103.3" y1="754.6" x2="103.3" y2="780.6" stroke="#333" stroke-width="0.8" />
<line x1="107.7" y1="754.6" x2="107.7" y2="780.6" stroke="#333" stroke-width="0.8" />
<line x1="116.9" y1="754.6" x2="116.9" y2="780.6" stroke="#444" stroke-width="0.9" />
<line x1="125.7" y1="754.6" x2="125.7" y2="780.6" stroke="#333" stroke-width="0.8" />
<polyline fill="none" stroke="#00F500" stroke-width="1.5" stroke-linejoin="round" points="62.7,749.1 63.8,749.7 64.1,739.2 65,738.8 65.6,719.3 68.3,721 68.9,712.3 71.8,714 72.2,707 73.2,706.5 73.8,699.8 84.3,706.1 84.6,694.2 85.4,688.9 86.4,683.7 89.5,685.4 90.1,680.8 92.5,682.3 93.6,677.3 103,683.4 103.8,680.2 107.1,682.3 108,679.4 116.4,684.3 117.8,681.6 125.7,686.2 230.7,748.5"/>
<rect x="61.6" y="674.4" width="172.6" height="113.2" fill="none" stroke="#222" stroke-width="1.1"/>
<text x="69.6" y="736.2" font-size="7.7" text-anchor="start" fill="#000" >NES: 2.01</text>
<text x="69.6" y="745" font-size="7.8" fill="#000">Nominal <tspan font-style="italic">P-value:</tspan> 0.002</text>
<text x="62" y="795.6" font-size="7" text-anchor="start" fill="#111" >BL Resistant</text>
<text x="234" y="795.6" font-size="7" text-anchor="end" fill="#111" >BL Sensitive</text>
<text x="257" y="660.4" font-size="18" text-anchor="start" fill="#000" font-weight="bold">D</text>
<text class="b" x="338" y="670.6" font-size="9" text-anchor="middle" fill="#111" >Baseline</text>
<line x1="303.6" y1="677.7" x2="303.6" y2="786.6" stroke="#999" stroke-width="1.5" />
<line x1="302.3" y1="785.9" x2="375.6" y2="785.9" stroke="#999" stroke-width="1.5" />
<line x1="301.4" y1="678.45" x2="303.1" y2="678.45" stroke="#555" stroke-width="0.9" />
<text class="b" x="299.8" y="681.85" font-size="9" text-anchor="end" fill="#111" >3</text>
<line x1="301.4" y1="705.2" x2="303.1" y2="705.2" stroke="#555" stroke-width="0.9" />
<text class="b" x="299.8" y="708.6" font-size="9" text-anchor="end" fill="#111" >2</text>
<line x1="301.4" y1="731.95" x2="303.1" y2="731.95" stroke="#555" stroke-width="0.9" />
<text class="b" x="299.8" y="735.35" font-size="9" text-anchor="end" fill="#111" >1</text>
<line x1="301.4" y1="758.7" x2="303.1" y2="758.7" stroke="#555" stroke-width="0.9" />
<text class="b" x="299.8" y="762.1" font-size="9" text-anchor="end" fill="#111" >0</text>
<line x1="301.4" y1="785.45" x2="303.1" y2="785.45" stroke="#555" stroke-width="0.9" />
<text class="b" x="299.8" y="788.85" font-size="9" text-anchor="end" fill="#111" >-1</text>
<line x1="324.5" y1="786.4" x2="324.5" y2="788" stroke="#333" stroke-width="0.9" />
<line x1="355.2" y1="786.4" x2="355.2" y2="788" stroke="#333" stroke-width="0.9" />
<text class="b" x="324.5" y="797.8" font-size="9" text-anchor="middle" fill="#111" >Sen</text>
<text class="b" x="355.2" y="797.8" font-size="9" text-anchor="middle" fill="#111" >Res</text>
<text class="b" transform="translate(288,732.5) rotate(-90)" font-size="9" text-anchor="middle" fill="#111">18 Gene TME signature score</text>
<line x1="322.5" y1="686.2" x2="355.5" y2="686.2" stroke="#000" stroke-width="0.9" />
<text x="339" y="684" font-size="6.7" text-anchor="middle" fill="#111"><tspan font-style="italic">P</tspan> = 0.0455</text>
<circle cx="324.5" cy="736.8" r="2.45" fill="#E9AC52"/>
<circle cx="324.5" cy="746.8" r="2.45" fill="#E9AC52"/>
<circle cx="320.3" cy="758.7" r="2.45" fill="#E9AC52"/>
<circle cx="324.5" cy="761.2" r="2.45" fill="#E9AC52"/>
<circle cx="320.3" cy="766.9" r="2.45" fill="#E9AC52"/>
<circle cx="324.5" cy="767.4" r="2.45" fill="#E9AC52"/>
<circle cx="328.2" cy="767.4" r="2.45" fill="#E9AC52"/>
<circle cx="332.3" cy="766.9" r="2.45" fill="#E9AC52"/>
<circle cx="320.3" cy="772.1" r="2.45" fill="#E9AC52"/>
<circle cx="316.3" cy="775.2" r="2.45" fill="#E9AC52"/>
<circle cx="324.5" cy="775.2" r="2.45" fill="#E9AC52"/>
<circle cx="328.2" cy="774.2" r="2.45" fill="#E9AC52"/>
<circle cx="332.3" cy="775.5" r="2.45" fill="#E9AC52"/>
<circle cx="355.2" cy="699.4" r="2.45" fill="#FF8CC6"/>
<circle cx="355.2" cy="739.5" r="2.45" fill="#FF8CC6"/>
<circle cx="355.2" cy="747.4" r="2.45" fill="#FF8CC6"/>
<circle cx="350.2" cy="759.6" r="2.45" fill="#FF8CC6"/>
<circle cx="360.2" cy="758.7" r="2.45" fill="#FF8CC6"/>
<circle cx="360.2" cy="764" r="2.45" fill="#FF8CC6"/>
<circle cx="350.2" cy="768" r="2.45" fill="#FF8CC6"/>
<line x1="314.2" y1="765" x2="334.9" y2="765" stroke="#333" stroke-width="1" />
<line x1="345.1" y1="748.3" x2="365.5" y2="748.3" stroke="#333" stroke-width="1" />
</svg></body></html>
